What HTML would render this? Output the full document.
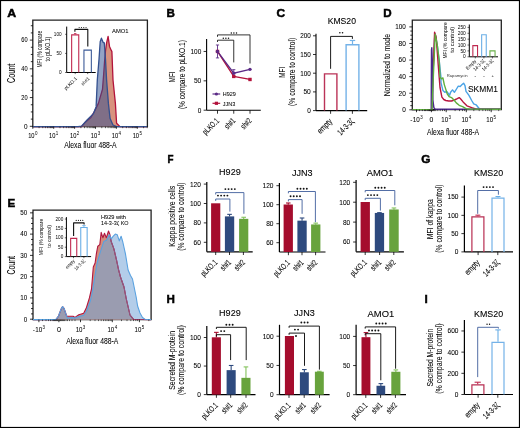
<!DOCTYPE html>
<html><head><meta charset="utf-8"><style>
html,body{margin:0;padding:0;background:#fff;width:520px;height:428px;overflow:hidden}
svg{display:block;will-change:transform}
text{font-family:"Liberation Sans", sans-serif}
</style></head><body>
<svg width="520" height="428" viewBox="0 0 520 428">
<rect x="0.5" y="0.5" width="519" height="427" fill="none" stroke="#000" stroke-width="1.2"/>
<text x="7.2" y="16.8" font-size="11.6" text-anchor="start" font-weight="bold" fill="#000" textLength="8.9" lengthAdjust="spacingAndGlyphs" stroke="#000" stroke-width="0.5">A</text>
<text x="166.4" y="16.8" font-size="11.6" text-anchor="start" font-weight="bold" fill="#000" stroke="#000" stroke-width="0.5">B</text>
<text x="276.6" y="16.7" font-size="11.6" text-anchor="start" font-weight="bold" fill="#000" textLength="8.6" lengthAdjust="spacingAndGlyphs" stroke="#000" stroke-width="0.5">C</text>
<text x="383.3" y="16.8" font-size="11.6" text-anchor="start" font-weight="bold" fill="#000" stroke="#000" stroke-width="0.5">D</text>
<text x="7.5" y="206.7" font-size="11.6" text-anchor="start" font-weight="bold" fill="#000" stroke="#000" stroke-width="0.5">E</text>
<text x="167.6" y="162.6" font-size="11.6" text-anchor="start" font-weight="bold" fill="#000" textLength="6" lengthAdjust="spacingAndGlyphs" stroke="#000" stroke-width="0.5">F</text>
<text x="421.3" y="163" font-size="11.6" text-anchor="start" font-weight="bold" fill="#000" textLength="9.2" lengthAdjust="spacingAndGlyphs" stroke="#000" stroke-width="0.5">G</text>
<text x="166.4" y="303.3" font-size="11.6" text-anchor="start" font-weight="bold" fill="#000" stroke="#000" stroke-width="0.5">H</text>
<text x="424.4" y="303.3" font-size="11.6" text-anchor="start" font-weight="bold" fill="#000" stroke="#000" stroke-width="0.5">I</text>
<path d="M32.8,126.6 L32.8,20.1 L147.4,20.1 L147.4,126.6 Z" fill="none" stroke="#222" stroke-width="1.3"/>
<path d="M33,126.6 L81.5,126.6 L85,122.6 L90.9,117.4 L94.4,111.5 L98.4,103.4 L102.5,89.3 L103.6,75 L104.6,61 L105.6,50 L106.6,42.9 L108.1,36.4 L109.5,46.4 L111.3,50.4 L111.9,51.6 L113,80 L115.4,103.4 L116.6,123.2 L120,126.6 L147,126.6 Z" fill="#d8927e" stroke="none" stroke-width="1"/>
<path d="M33,126.6 L81.5,126.6 L85,122.6 L90.9,117.4 L94.4,111.5 L98.4,103.4 L102.5,89.3 L103.6,75 L104.6,61 L105.6,50 L106.6,42.9 L108.1,36.4 L109.5,46.4 L111.3,50.4 L111.9,51.6 L113,80 L115.4,103.4 L116.6,123.2 L120,126.6 L147,126.6" fill="none" stroke="#b3133b" stroke-width="1.3" stroke-linejoin="round"/>
<path d="M33,126.6 L78,126.6 L81.5,126.1 L87.3,119.7 L93.2,113.9 L96.1,106.9 L97.3,80 L99,59.2 L100.2,41.7 L101.4,38.2 L103.1,42.3 L104.3,42.9 L105.5,59.2 L106.6,80 L108.4,103.4 L110.1,118.6 L113,125 L116.6,126.6 L147,126.6 Z" fill="rgba(47,79,143,0.52)" stroke="none" stroke-width="1"/>
<path d="M33,126.6 L78,126.6 L81.5,126.1 L87.3,119.7 L93.2,113.9 L96.1,106.9 L97.3,80 L99,59.2 L100.2,41.7 L101.4,38.2 L103.1,42.3 L104.3,42.9 L105.5,59.2 L106.6,80 L108.4,103.4 L110.1,118.6 L113,125 L116.6,126.6 L147,126.6" fill="none" stroke="#33508f" stroke-width="1.3" stroke-linejoin="round"/>
<line x1="29.8" y1="126.3" x2="32.8" y2="126.3" stroke="#000" stroke-width="0.8"/>
<line x1="30.8" y1="119.12" x2="32.8" y2="119.12" stroke="#000" stroke-width="0.8"/>
<line x1="30.8" y1="111.93" x2="32.8" y2="111.93" stroke="#000" stroke-width="0.8"/>
<line x1="30.8" y1="104.75" x2="32.8" y2="104.75" stroke="#000" stroke-width="0.8"/>
<line x1="29.8" y1="97.57" x2="32.8" y2="97.57" stroke="#000" stroke-width="0.8"/>
<line x1="30.8" y1="90.38" x2="32.8" y2="90.38" stroke="#000" stroke-width="0.8"/>
<line x1="30.8" y1="83.2" x2="32.8" y2="83.2" stroke="#000" stroke-width="0.8"/>
<line x1="30.8" y1="76.02" x2="32.8" y2="76.02" stroke="#000" stroke-width="0.8"/>
<line x1="29.8" y1="68.83" x2="32.8" y2="68.83" stroke="#000" stroke-width="0.8"/>
<line x1="30.8" y1="61.65" x2="32.8" y2="61.65" stroke="#000" stroke-width="0.8"/>
<line x1="30.8" y1="54.46" x2="32.8" y2="54.46" stroke="#000" stroke-width="0.8"/>
<line x1="30.8" y1="47.28" x2="32.8" y2="47.28" stroke="#000" stroke-width="0.8"/>
<line x1="29.8" y1="40.1" x2="32.8" y2="40.1" stroke="#000" stroke-width="0.8"/>
<line x1="30.8" y1="32.91" x2="32.8" y2="32.91" stroke="#000" stroke-width="0.8"/>
<line x1="30.8" y1="25.73" x2="32.8" y2="25.73" stroke="#000" stroke-width="0.8"/>
<text x="27.6" y="128.6" font-size="6.4" text-anchor="end" font-weight="normal" fill="#000" stroke="#000" stroke-width="0.06">0</text>
<text x="27.6" y="99.87" font-size="6.4" text-anchor="end" font-weight="normal" fill="#000" stroke="#000" stroke-width="0.06" textLength="6.3" lengthAdjust="spacingAndGlyphs">20</text>
<text x="27.6" y="71.13" font-size="6.4" text-anchor="end" font-weight="normal" fill="#000" stroke="#000" stroke-width="0.06" textLength="6.3" lengthAdjust="spacingAndGlyphs">40</text>
<text x="27.6" y="42.4" font-size="6.4" text-anchor="end" font-weight="normal" fill="#000" stroke="#000" stroke-width="0.06" textLength="6.3" lengthAdjust="spacingAndGlyphs">60</text>
<text x="0" y="0" transform="translate(15.03,73.4) rotate(-90)" font-size="10.08" text-anchor="middle" font-weight="normal" fill="#000" stroke="#000" stroke-width="0.06" textLength="19.2" lengthAdjust="spacingAndGlyphs">Count</text>
<line x1="32.8" y1="126.6" x2="32.8" y2="128.8" stroke="#000" stroke-width="0.8"/>
<line x1="39.09" y1="126.6" x2="39.09" y2="128.2" stroke="#000" stroke-width="0.6"/>
<line x1="42.77" y1="126.6" x2="42.77" y2="128.2" stroke="#000" stroke-width="0.6"/>
<line x1="45.38" y1="126.6" x2="45.38" y2="128.2" stroke="#000" stroke-width="0.6"/>
<line x1="47.41" y1="126.6" x2="47.41" y2="128.2" stroke="#000" stroke-width="0.6"/>
<line x1="49.06" y1="126.6" x2="49.06" y2="128.2" stroke="#000" stroke-width="0.6"/>
<line x1="50.46" y1="126.6" x2="50.46" y2="128.2" stroke="#000" stroke-width="0.6"/>
<line x1="51.67" y1="126.6" x2="51.67" y2="128.2" stroke="#000" stroke-width="0.6"/>
<line x1="52.74" y1="126.6" x2="52.74" y2="128.2" stroke="#000" stroke-width="0.6"/>
<line x1="53.7" y1="126.6" x2="53.7" y2="128.8" stroke="#000" stroke-width="0.8"/>
<line x1="59.99" y1="126.6" x2="59.99" y2="128.2" stroke="#000" stroke-width="0.6"/>
<line x1="63.67" y1="126.6" x2="63.67" y2="128.2" stroke="#000" stroke-width="0.6"/>
<line x1="66.28" y1="126.6" x2="66.28" y2="128.2" stroke="#000" stroke-width="0.6"/>
<line x1="68.31" y1="126.6" x2="68.31" y2="128.2" stroke="#000" stroke-width="0.6"/>
<line x1="69.96" y1="126.6" x2="69.96" y2="128.2" stroke="#000" stroke-width="0.6"/>
<line x1="71.36" y1="126.6" x2="71.36" y2="128.2" stroke="#000" stroke-width="0.6"/>
<line x1="72.57" y1="126.6" x2="72.57" y2="128.2" stroke="#000" stroke-width="0.6"/>
<line x1="73.64" y1="126.6" x2="73.64" y2="128.2" stroke="#000" stroke-width="0.6"/>
<line x1="74.6" y1="126.6" x2="74.6" y2="128.8" stroke="#000" stroke-width="0.8"/>
<line x1="80.89" y1="126.6" x2="80.89" y2="128.2" stroke="#000" stroke-width="0.6"/>
<line x1="84.57" y1="126.6" x2="84.57" y2="128.2" stroke="#000" stroke-width="0.6"/>
<line x1="87.18" y1="126.6" x2="87.18" y2="128.2" stroke="#000" stroke-width="0.6"/>
<line x1="89.21" y1="126.6" x2="89.21" y2="128.2" stroke="#000" stroke-width="0.6"/>
<line x1="90.86" y1="126.6" x2="90.86" y2="128.2" stroke="#000" stroke-width="0.6"/>
<line x1="92.26" y1="126.6" x2="92.26" y2="128.2" stroke="#000" stroke-width="0.6"/>
<line x1="93.47" y1="126.6" x2="93.47" y2="128.2" stroke="#000" stroke-width="0.6"/>
<line x1="94.54" y1="126.6" x2="94.54" y2="128.2" stroke="#000" stroke-width="0.6"/>
<line x1="95.5" y1="126.6" x2="95.5" y2="128.8" stroke="#000" stroke-width="0.8"/>
<line x1="101.79" y1="126.6" x2="101.79" y2="128.2" stroke="#000" stroke-width="0.6"/>
<line x1="105.47" y1="126.6" x2="105.47" y2="128.2" stroke="#000" stroke-width="0.6"/>
<line x1="108.08" y1="126.6" x2="108.08" y2="128.2" stroke="#000" stroke-width="0.6"/>
<line x1="110.11" y1="126.6" x2="110.11" y2="128.2" stroke="#000" stroke-width="0.6"/>
<line x1="111.76" y1="126.6" x2="111.76" y2="128.2" stroke="#000" stroke-width="0.6"/>
<line x1="113.16" y1="126.6" x2="113.16" y2="128.2" stroke="#000" stroke-width="0.6"/>
<line x1="114.37" y1="126.6" x2="114.37" y2="128.2" stroke="#000" stroke-width="0.6"/>
<line x1="115.44" y1="126.6" x2="115.44" y2="128.2" stroke="#000" stroke-width="0.6"/>
<line x1="116.4" y1="126.6" x2="116.4" y2="128.8" stroke="#000" stroke-width="0.8"/>
<line x1="122.69" y1="126.6" x2="122.69" y2="128.2" stroke="#000" stroke-width="0.6"/>
<line x1="126.37" y1="126.6" x2="126.37" y2="128.2" stroke="#000" stroke-width="0.6"/>
<line x1="128.98" y1="126.6" x2="128.98" y2="128.2" stroke="#000" stroke-width="0.6"/>
<line x1="131.01" y1="126.6" x2="131.01" y2="128.2" stroke="#000" stroke-width="0.6"/>
<line x1="132.66" y1="126.6" x2="132.66" y2="128.2" stroke="#000" stroke-width="0.6"/>
<line x1="134.06" y1="126.6" x2="134.06" y2="128.2" stroke="#000" stroke-width="0.6"/>
<line x1="135.27" y1="126.6" x2="135.27" y2="128.2" stroke="#000" stroke-width="0.6"/>
<line x1="136.34" y1="126.6" x2="136.34" y2="128.2" stroke="#000" stroke-width="0.6"/>
<line x1="137.3" y1="126.6" x2="137.3" y2="128.8" stroke="#000" stroke-width="0.8"/>
<line x1="143.59" y1="126.6" x2="143.59" y2="128.2" stroke="#000" stroke-width="0.6"/>
<line x1="147.27" y1="126.6" x2="147.27" y2="128.2" stroke="#000" stroke-width="0.6"/>
<line x1="316" y1="33.8" x2="316" y2="110.6" stroke="#000" stroke-width="1.1"/>
<line x1="316" y1="110.6" x2="367.2" y2="110.6" stroke="#000" stroke-width="1.1"/>
<line x1="313" y1="110.6" x2="316" y2="110.6" stroke="#000" stroke-width="0.8"/>
<text x="310.8" y="113" font-size="6.6" text-anchor="end" font-weight="normal" fill="#000" stroke="#000" stroke-width="0.06" textLength="3.6" lengthAdjust="spacingAndGlyphs">0</text>
<line x1="313" y1="91.9" x2="316" y2="91.9" stroke="#000" stroke-width="0.8"/>
<text x="310.8" y="94.3" font-size="6.6" text-anchor="end" font-weight="normal" fill="#000" stroke="#000" stroke-width="0.06" textLength="7.4" lengthAdjust="spacingAndGlyphs">50</text>
<line x1="313" y1="73.2" x2="316" y2="73.2" stroke="#000" stroke-width="0.8"/>
<text x="310.8" y="75.6" font-size="6.6" text-anchor="end" font-weight="normal" fill="#000" stroke="#000" stroke-width="0.06" textLength="10.6" lengthAdjust="spacingAndGlyphs">100</text>
<line x1="313" y1="54.5" x2="316" y2="54.5" stroke="#000" stroke-width="0.8"/>
<text x="310.8" y="56.9" font-size="6.6" text-anchor="end" font-weight="normal" fill="#000" stroke="#000" stroke-width="0.06" textLength="10.6" lengthAdjust="spacingAndGlyphs">150</text>
<line x1="313" y1="35.8" x2="316" y2="35.8" stroke="#000" stroke-width="0.8"/>
<text x="310.8" y="38.2" font-size="6.6" text-anchor="end" font-weight="normal" fill="#000" stroke="#000" stroke-width="0.06" textLength="10.6" lengthAdjust="spacingAndGlyphs">200</text>
<line x1="330.6" y1="110.6" x2="330.6" y2="113.8" stroke="#000" stroke-width="0.8"/>
<line x1="352.4" y1="110.6" x2="352.4" y2="113.8" stroke="#000" stroke-width="0.8"/>
<path d="M324.5,110.6 L324.5,73.89999999999999 L336.90000000000003,73.89999999999999 L336.90000000000003,110.6" fill="none" stroke="#bb3358" stroke-width="1.4"/>
<path d="M346.09999999999997,110.6 L346.09999999999997,44.727999999999994 L358.90000000000003,44.727999999999994 L358.90000000000003,110.6" fill="none" stroke="#74b2e8" stroke-width="1.4"/>
<line x1="352.5" y1="44.03" x2="352.5" y2="40.47" stroke="#74b2e8" stroke-width="1.2"/>
<line x1="349.8" y1="40.47" x2="355.2" y2="40.47" stroke="#74b2e8" stroke-width="1.2"/>
<path d="M330.6,68.8 L330.6,36.4 L352.4,36.4 L352.4,38.9" fill="none" stroke="#000" stroke-width="0.9" stroke-linejoin="round"/>
<circle cx="339.85" cy="32.80" r="0.8" fill="#111"/>
<circle cx="342.55" cy="32.80" r="0.8" fill="#111"/>
<text x="341.8" y="24" font-size="8.8" text-anchor="middle" font-weight="normal" fill="#000" stroke="#000" stroke-width="0.1" textLength="28.3" lengthAdjust="spacingAndGlyphs">KMS20</text>
<text x="0" y="0" transform="translate(332.8,121.9) rotate(-45)" font-size="8.43" text-anchor="end" font-weight="normal" fill="#000" stroke="#000" stroke-width="0.1" textLength="17.5" lengthAdjust="spacingAndGlyphs">empty</text>
<text x="0" y="0" transform="translate(354.6,121.9) rotate(-45)" font-size="8.43" text-anchor="end" font-weight="normal" fill="#000" stroke="#000" stroke-width="0.1" textLength="19.5" lengthAdjust="spacingAndGlyphs">14-3-3ζ</text>
<text x="0" y="0" transform="translate(284.83,72.3) rotate(-90)" font-size="9.24" text-anchor="middle" font-weight="normal" fill="#000" stroke="#000" stroke-width="0.06" textLength="11" lengthAdjust="spacingAndGlyphs">MFI</text>
<text x="0" y="0" transform="translate(295.02,71.8) rotate(-90)" font-size="8.64" text-anchor="middle" font-weight="normal" fill="#000" stroke="#000" stroke-width="0.06" textLength="68.3" lengthAdjust="spacingAndGlyphs">(% compare to control)</text>
<path d="M412.3,109.6 L412.3,20.2 L501.3,20.2 L501.3,109.6 Z" fill="none" stroke="#222" stroke-width="1.3"/>
<path d="M412.3,109.6 L431.8,109.6 L433.2,70 L434.6,38 L435.2,34.1 L437.3,45.3 L439.3,61.5 L440.9,76.8 L441,82.7 L442.9,90.4 L444.8,92.3 L446.7,91.3 L449.6,95.2 L450.6,92.3 L452.5,89.9 L454.4,92.3 L456.8,88.5 L458.3,86.1 L460.2,86.5 L462.1,84.6 L463.6,83.2 L465,85.6 L466,91.3 L468.8,95.2 L471.7,100.5 L473.7,103.8 L476.1,104.8 L478.5,107.7 L480.4,109.2 L501,109.2" fill="none" stroke="#4aa3e6" stroke-width="1.4" stroke-linejoin="round"/>
<path d="M412.3,109.6 L431.6,109.6 L433,75 L434.6,32.1 L436.2,37.2 L438.3,65.6 L440,87.5 L441.9,97.1 L443.8,99.5 L445.8,100.5 L448.7,101 L451.5,101 L454.4,100 L457.3,98.6 L459.2,97.6 L460.7,99 L463.1,101.9 L466.9,105.8 L471.7,107.7 L476.5,109.1 L501,109.2" fill="none" stroke="#b8153f" stroke-width="1.4" stroke-linejoin="round"/>
<path d="M412.3,109.6 L431.2,109.6 L431.5,50 L431.8,47.8 L432.3,60 L432.9,100 L433.9,107.8 L435.2,109.3 L501,109.3" fill="none" stroke="#4b2a8a" stroke-width="1.4" stroke-linejoin="round"/>
<path d="M412.3,109.6 L432,109.6 L433.4,75 L435.2,34.1 L437.3,45.3 L439.3,61.5 L440,76.9 L441.4,78.8 L442.9,77.9 L444.3,84.6 L445.8,89.4 L447.2,93.8 L449.1,96.6 L451.5,97.6 L453,99 L454.4,100.5 L456.3,102.9 L459.2,105.3 L462.6,106.7 L466,108.7 L470.8,109.1 L501,109.2" fill="none" stroke="#5fae3e" stroke-width="1.4" stroke-linejoin="round"/>
<line x1="409.3" y1="109.8" x2="412.3" y2="109.8" stroke="#000" stroke-width="0.8"/>
<line x1="410.3" y1="105.66" x2="412.3" y2="105.66" stroke="#000" stroke-width="0.8"/>
<line x1="410.3" y1="101.51" x2="412.3" y2="101.51" stroke="#000" stroke-width="0.8"/>
<line x1="410.3" y1="97.36" x2="412.3" y2="97.36" stroke="#000" stroke-width="0.8"/>
<line x1="409.3" y1="93.22" x2="412.3" y2="93.22" stroke="#000" stroke-width="0.8"/>
<line x1="410.3" y1="89.08" x2="412.3" y2="89.08" stroke="#000" stroke-width="0.8"/>
<line x1="410.3" y1="84.93" x2="412.3" y2="84.93" stroke="#000" stroke-width="0.8"/>
<line x1="410.3" y1="80.78" x2="412.3" y2="80.78" stroke="#000" stroke-width="0.8"/>
<line x1="409.3" y1="76.64" x2="412.3" y2="76.64" stroke="#000" stroke-width="0.8"/>
<line x1="410.3" y1="72.5" x2="412.3" y2="72.5" stroke="#000" stroke-width="0.8"/>
<line x1="410.3" y1="68.35" x2="412.3" y2="68.35" stroke="#000" stroke-width="0.8"/>
<line x1="410.3" y1="64.2" x2="412.3" y2="64.2" stroke="#000" stroke-width="0.8"/>
<line x1="409.3" y1="60.06" x2="412.3" y2="60.06" stroke="#000" stroke-width="0.8"/>
<line x1="410.3" y1="55.91" x2="412.3" y2="55.91" stroke="#000" stroke-width="0.8"/>
<line x1="410.3" y1="51.77" x2="412.3" y2="51.77" stroke="#000" stroke-width="0.8"/>
<line x1="410.3" y1="47.62" x2="412.3" y2="47.62" stroke="#000" stroke-width="0.8"/>
<line x1="409.3" y1="43.48" x2="412.3" y2="43.48" stroke="#000" stroke-width="0.8"/>
<line x1="410.3" y1="39.33" x2="412.3" y2="39.33" stroke="#000" stroke-width="0.8"/>
<line x1="410.3" y1="35.19" x2="412.3" y2="35.19" stroke="#000" stroke-width="0.8"/>
<line x1="410.3" y1="31.05" x2="412.3" y2="31.05" stroke="#000" stroke-width="0.8"/>
<line x1="409.3" y1="26.9" x2="412.3" y2="26.9" stroke="#000" stroke-width="0.8"/>
<text x="405.8" y="112.2" font-size="6.6" text-anchor="end" font-weight="normal" fill="#000" stroke="#000" stroke-width="0.06" textLength="3.6" lengthAdjust="spacingAndGlyphs">0</text>
<text x="405.8" y="95.62" font-size="6.6" text-anchor="end" font-weight="normal" fill="#000" stroke="#000" stroke-width="0.06" textLength="7.3" lengthAdjust="spacingAndGlyphs">20</text>
<text x="405.8" y="79.04" font-size="6.6" text-anchor="end" font-weight="normal" fill="#000" stroke="#000" stroke-width="0.06" textLength="7.3" lengthAdjust="spacingAndGlyphs">40</text>
<text x="405.8" y="62.46" font-size="6.6" text-anchor="end" font-weight="normal" fill="#000" stroke="#000" stroke-width="0.06" textLength="7.3" lengthAdjust="spacingAndGlyphs">60</text>
<text x="405.8" y="45.88" font-size="6.6" text-anchor="end" font-weight="normal" fill="#000" stroke="#000" stroke-width="0.06" textLength="7.3" lengthAdjust="spacingAndGlyphs">80</text>
<text x="405.8" y="29.3" font-size="6.6" text-anchor="end" font-weight="normal" fill="#000" stroke="#000" stroke-width="0.06" textLength="10.6" lengthAdjust="spacingAndGlyphs">100</text>
<text x="0" y="0" transform="translate(389.92,65.1) rotate(-90)" font-size="8.64" text-anchor="middle" font-weight="normal" fill="#000" stroke="#000" stroke-width="0.06" textLength="62.5" lengthAdjust="spacingAndGlyphs">Normalized to mode</text>
<line x1="416.5" y1="109.6" x2="416.5" y2="112.2" stroke="#000" stroke-width="0.8"/>
<line x1="431.4" y1="109.6" x2="431.4" y2="112.2" stroke="#000" stroke-width="0.8"/>
<line x1="446.2" y1="109.6" x2="446.2" y2="112.2" stroke="#000" stroke-width="0.8"/>
<line x1="466.3" y1="109.6" x2="466.3" y2="112.2" stroke="#000" stroke-width="0.8"/>
<line x1="491.2" y1="109.6" x2="491.2" y2="112.2" stroke="#000" stroke-width="0.8"/>
<line x1="419.5" y1="109.6" x2="419.5" y2="111.1" stroke="#000" stroke-width="0.6"/>
<line x1="422.4" y1="109.6" x2="422.4" y2="111.1" stroke="#000" stroke-width="0.6"/>
<line x1="424.5" y1="109.6" x2="424.5" y2="111.1" stroke="#000" stroke-width="0.6"/>
<line x1="425.5" y1="109.6" x2="425.5" y2="111.1" stroke="#000" stroke-width="0.6"/>
<line x1="427" y1="109.6" x2="427" y2="111.1" stroke="#000" stroke-width="0.6"/>
<line x1="428" y1="109.6" x2="428" y2="111.1" stroke="#000" stroke-width="0.6"/>
<line x1="428.8" y1="109.6" x2="428.8" y2="111.1" stroke="#000" stroke-width="0.6"/>
<line x1="429.5" y1="109.6" x2="429.5" y2="111.1" stroke="#000" stroke-width="0.6"/>
<line x1="430.1" y1="109.6" x2="430.1" y2="111.1" stroke="#000" stroke-width="0.6"/>
<line x1="430.7" y1="109.6" x2="430.7" y2="111.1" stroke="#000" stroke-width="0.6"/>
<line x1="432.1" y1="109.6" x2="432.1" y2="111.1" stroke="#000" stroke-width="0.6"/>
<line x1="432.7" y1="109.6" x2="432.7" y2="111.1" stroke="#000" stroke-width="0.6"/>
<line x1="433.3" y1="109.6" x2="433.3" y2="111.1" stroke="#000" stroke-width="0.6"/>
<line x1="434" y1="109.6" x2="434" y2="111.1" stroke="#000" stroke-width="0.6"/>
<line x1="434.8" y1="109.6" x2="434.8" y2="111.1" stroke="#000" stroke-width="0.6"/>
<line x1="435.8" y1="109.6" x2="435.8" y2="111.1" stroke="#000" stroke-width="0.6"/>
<line x1="437.8" y1="109.6" x2="437.8" y2="111.1" stroke="#000" stroke-width="0.6"/>
<line x1="440.2" y1="109.6" x2="440.2" y2="111.1" stroke="#000" stroke-width="0.6"/>
<line x1="442.5" y1="109.6" x2="442.5" y2="111.1" stroke="#000" stroke-width="0.6"/>
<line x1="444.5" y1="109.6" x2="444.5" y2="111.1" stroke="#000" stroke-width="0.6"/>
<line x1="455.1" y1="109.6" x2="455.1" y2="111.1" stroke="#000" stroke-width="0.6"/>
<line x1="459.5" y1="109.6" x2="459.5" y2="111.1" stroke="#000" stroke-width="0.6"/>
<line x1="462.5" y1="109.6" x2="462.5" y2="111.1" stroke="#000" stroke-width="0.6"/>
<line x1="464.6" y1="109.6" x2="464.6" y2="111.1" stroke="#000" stroke-width="0.6"/>
<line x1="473.8" y1="109.6" x2="473.8" y2="111.1" stroke="#000" stroke-width="0.6"/>
<line x1="479.2" y1="109.6" x2="479.2" y2="111.1" stroke="#000" stroke-width="0.6"/>
<line x1="482.8" y1="109.6" x2="482.8" y2="111.1" stroke="#000" stroke-width="0.6"/>
<line x1="485.6" y1="109.6" x2="485.6" y2="111.1" stroke="#000" stroke-width="0.6"/>
<line x1="487.8" y1="109.6" x2="487.8" y2="111.1" stroke="#000" stroke-width="0.6"/>
<line x1="489.6" y1="109.6" x2="489.6" y2="111.1" stroke="#000" stroke-width="0.6"/>
<line x1="498.7" y1="109.6" x2="498.7" y2="111.1" stroke="#000" stroke-width="0.6"/>
<text x="410.35" y="121.6" font-size="7" text-anchor="start" font-weight="normal" fill="#000" stroke="#000" stroke-width="0.06" textLength="2.2" lengthAdjust="spacingAndGlyphs">-</text>
<text x="412.75" y="121.6" font-size="7" text-anchor="start" font-weight="normal" fill="#000" stroke="#000" stroke-width="0.06" textLength="7" lengthAdjust="spacingAndGlyphs">10</text>
<text x="420.15" y="118.7" font-size="4.8" text-anchor="start" font-weight="normal" fill="#000" textLength="2.5" lengthAdjust="spacingAndGlyphs">3</text>
<text x="431.4" y="121.6" font-size="7" text-anchor="middle" font-weight="normal" fill="#000" stroke="#000" stroke-width="0.06" textLength="3.8" lengthAdjust="spacingAndGlyphs">0</text>
<text x="441.35" y="121.6" font-size="7" text-anchor="start" font-weight="normal" fill="#000" stroke="#000" stroke-width="0.06" textLength="6.8" lengthAdjust="spacingAndGlyphs">10</text>
<text x="448.55" y="118.7" font-size="4.8" text-anchor="start" font-weight="normal" fill="#000" textLength="2.5" lengthAdjust="spacingAndGlyphs">3</text>
<text x="461.45" y="121.6" font-size="7" text-anchor="start" font-weight="normal" fill="#000" stroke="#000" stroke-width="0.06" textLength="6.8" lengthAdjust="spacingAndGlyphs">10</text>
<text x="468.65" y="118.7" font-size="4.8" text-anchor="start" font-weight="normal" fill="#000" textLength="2.5" lengthAdjust="spacingAndGlyphs">4</text>
<text x="486.35" y="121.6" font-size="7" text-anchor="start" font-weight="normal" fill="#000" stroke="#000" stroke-width="0.06" textLength="6.8" lengthAdjust="spacingAndGlyphs">10</text>
<text x="493.55" y="118.7" font-size="4.8" text-anchor="start" font-weight="normal" fill="#000" textLength="2.5" lengthAdjust="spacingAndGlyphs">5</text>
<text x="427.1" y="135.2" font-size="8.2" text-anchor="start" font-weight="normal" fill="#000" stroke="#000" stroke-width="0.06" textLength="52" lengthAdjust="spacingAndGlyphs">Alexa fluor 488-A</text>
<text x="467.9" y="91.9" font-size="8.6" text-anchor="start" font-weight="normal" fill="#000" stroke="#000" stroke-width="0.06" textLength="30" lengthAdjust="spacingAndGlyphs">SKMM1</text>
<line x1="469.3" y1="24.5" x2="469.3" y2="56.8" stroke="#000" stroke-width="1"/>
<line x1="469.3" y1="56.8" x2="498" y2="56.8" stroke="#000" stroke-width="1"/>
<line x1="467.5" y1="56.8" x2="469.3" y2="56.8" stroke="#000" stroke-width="0.6"/>
<text x="465.8" y="58.4" font-size="4.6" text-anchor="end" font-weight="normal" fill="#000" textLength="2.7" lengthAdjust="spacingAndGlyphs">0</text>
<line x1="467.5" y1="50.92" x2="469.3" y2="50.92" stroke="#000" stroke-width="0.6"/>
<text x="465.8" y="52.52" font-size="4.6" text-anchor="end" font-weight="normal" fill="#000" textLength="5.4" lengthAdjust="spacingAndGlyphs">50</text>
<line x1="467.5" y1="45.04" x2="469.3" y2="45.04" stroke="#000" stroke-width="0.6"/>
<text x="465.8" y="46.64" font-size="4.6" text-anchor="end" font-weight="normal" fill="#000" textLength="8.1" lengthAdjust="spacingAndGlyphs">100</text>
<line x1="467.5" y1="39.16" x2="469.3" y2="39.16" stroke="#000" stroke-width="0.6"/>
<text x="465.8" y="40.76" font-size="4.6" text-anchor="end" font-weight="normal" fill="#000" textLength="8.1" lengthAdjust="spacingAndGlyphs">150</text>
<line x1="467.5" y1="33.28" x2="469.3" y2="33.28" stroke="#000" stroke-width="0.6"/>
<text x="465.8" y="34.88" font-size="4.6" text-anchor="end" font-weight="normal" fill="#000" textLength="8.1" lengthAdjust="spacingAndGlyphs">200</text>
<line x1="467.5" y1="27.4" x2="469.3" y2="27.4" stroke="#000" stroke-width="0.6"/>
<text x="465.8" y="29" font-size="4.6" text-anchor="end" font-weight="normal" fill="#000" textLength="8.1" lengthAdjust="spacingAndGlyphs">250</text>
<path d="M472.85,56.8 L472.85,45.589999999999996 L477.55,45.589999999999996 L477.55,56.8" fill="none" stroke="#c02a50" stroke-width="1.1"/>
<path d="M481.65000000000003,56.8 L481.65000000000003,34.770799999999994 L486.25,34.770799999999994 L486.25,56.8" fill="none" stroke="#6aaee6" stroke-width="1.1"/>
<path d="M489.95,56.8 L489.95,50.88199999999999 L495.05,50.88199999999999 L495.05,56.8" fill="none" stroke="#6ab04a" stroke-width="1.1"/>
<line x1="475.3" y1="56.8" x2="475.3" y2="58.4" stroke="#000" stroke-width="0.6"/>
<line x1="483.9" y1="56.8" x2="483.9" y2="58.4" stroke="#000" stroke-width="0.6"/>
<line x1="492.4" y1="56.8" x2="492.4" y2="58.4" stroke="#000" stroke-width="0.6"/>
<text x="0" y="0" transform="translate(476.6,61.4) rotate(-45)" font-size="4.9" text-anchor="end" font-weight="normal" fill="#000" textLength="12.4" lengthAdjust="spacingAndGlyphs">Empty</text>
<text x="0" y="0" transform="translate(485.2,61.4) rotate(-45)" font-size="4.9" text-anchor="end" font-weight="normal" fill="#000" textLength="14" lengthAdjust="spacingAndGlyphs">14-3-3ζ</text>
<text x="0" y="0" transform="translate(493.7,61.4) rotate(-45)" font-size="4.9" text-anchor="end" font-weight="normal" fill="#000" textLength="14" lengthAdjust="spacingAndGlyphs">14-3-3ζ</text>
<text x="446.7" y="77.2" font-size="4.3" text-anchor="start" font-weight="normal" fill="#333" textLength="21" lengthAdjust="spacingAndGlyphs">Rapamycin</text>
<text x="475.3" y="76.9" font-size="4.3" text-anchor="middle" font-weight="normal" fill="#000">-</text>
<text x="483.9" y="76.9" font-size="4.3" text-anchor="middle" font-weight="normal" fill="#000">-</text>
<text x="492.7" y="76.9" font-size="4.3" text-anchor="middle" font-weight="normal" fill="#000">+</text>
<text x="0" y="0" transform="translate(446.6,40.4) rotate(-90)" font-size="6" text-anchor="middle" font-weight="normal" fill="#000" textLength="36.2" lengthAdjust="spacingAndGlyphs">MFI (% compare</text>
<text x="0" y="0" transform="translate(453.9,39.7) rotate(-90)" font-size="6" text-anchor="middle" font-weight="normal" fill="#000" textLength="26" lengthAdjust="spacingAndGlyphs">to control)</text>
<text x="28.15" y="138.1" font-size="7" text-anchor="start" font-weight="normal" fill="#000" stroke="#000" stroke-width="0.06" textLength="6.4" lengthAdjust="spacingAndGlyphs">10</text>
<text x="34.95" y="135.2" font-size="4.6" text-anchor="start" font-weight="normal" fill="#000" textLength="2.5" lengthAdjust="spacingAndGlyphs">0</text>
<text x="49.05" y="138.1" font-size="7" text-anchor="start" font-weight="normal" fill="#000" stroke="#000" stroke-width="0.06" textLength="6.4" lengthAdjust="spacingAndGlyphs">10</text>
<text x="55.85" y="135.2" font-size="4.6" text-anchor="start" font-weight="normal" fill="#000" textLength="2.5" lengthAdjust="spacingAndGlyphs">1</text>
<text x="69.95" y="138.1" font-size="7" text-anchor="start" font-weight="normal" fill="#000" stroke="#000" stroke-width="0.06" textLength="6.4" lengthAdjust="spacingAndGlyphs">10</text>
<text x="76.75" y="135.2" font-size="4.6" text-anchor="start" font-weight="normal" fill="#000" textLength="2.5" lengthAdjust="spacingAndGlyphs">2</text>
<text x="90.85" y="138.1" font-size="7" text-anchor="start" font-weight="normal" fill="#000" stroke="#000" stroke-width="0.06" textLength="6.4" lengthAdjust="spacingAndGlyphs">10</text>
<text x="97.65" y="135.2" font-size="4.6" text-anchor="start" font-weight="normal" fill="#000" textLength="2.5" lengthAdjust="spacingAndGlyphs">3</text>
<text x="111.75" y="138.1" font-size="7" text-anchor="start" font-weight="normal" fill="#000" stroke="#000" stroke-width="0.06" textLength="6.4" lengthAdjust="spacingAndGlyphs">10</text>
<text x="118.55" y="135.2" font-size="4.6" text-anchor="start" font-weight="normal" fill="#000" textLength="2.5" lengthAdjust="spacingAndGlyphs">4</text>
<text x="132.65" y="138.1" font-size="7" text-anchor="start" font-weight="normal" fill="#000" stroke="#000" stroke-width="0.06" textLength="6.4" lengthAdjust="spacingAndGlyphs">10</text>
<text x="139.45" y="135.2" font-size="4.6" text-anchor="start" font-weight="normal" fill="#000" textLength="2.5" lengthAdjust="spacingAndGlyphs">5</text>
<text x="64.2" y="148.2" font-size="8.2" text-anchor="start" font-weight="normal" fill="#000" stroke="#000" stroke-width="0.06" textLength="52.5" lengthAdjust="spacingAndGlyphs">Alexa fluor 488-A</text>
<text x="112" y="32.6" font-size="6.2" text-anchor="start" font-weight="normal" fill="#000" stroke="#000" stroke-width="0.06" textLength="16.5" lengthAdjust="spacingAndGlyphs">AMO1</text>
<line x1="66.7" y1="26.6" x2="66.7" y2="72.5" stroke="#000" stroke-width="1"/>
<line x1="66.7" y1="72.5" x2="95.7" y2="72.5" stroke="#000" stroke-width="1"/>
<line x1="65.1" y1="72.5" x2="66.7" y2="72.5" stroke="#000" stroke-width="0.6"/>
<text x="61.6" y="74.2" font-size="4.8" text-anchor="end" font-weight="normal" fill="#000" textLength="2.6" lengthAdjust="spacingAndGlyphs">0</text>
<line x1="65.1" y1="53.4" x2="66.7" y2="53.4" stroke="#000" stroke-width="0.6"/>
<text x="61.6" y="55.1" font-size="4.8" text-anchor="end" font-weight="normal" fill="#000" textLength="5.2" lengthAdjust="spacingAndGlyphs">50</text>
<line x1="65.1" y1="34.3" x2="66.7" y2="34.3" stroke="#000" stroke-width="0.6"/>
<text x="61.6" y="36" font-size="4.8" text-anchor="end" font-weight="normal" fill="#000" textLength="7.8" lengthAdjust="spacingAndGlyphs">100</text>
<path d="M71.64999999999999,72.5 L71.64999999999999,34.849999999999994 L78.75,34.849999999999994 L78.75,72.5" fill="none" stroke="#c02a50" stroke-width="1.1"/>
<line x1="75.2" y1="34.3" x2="75.2" y2="33.54" stroke="#c02a50" stroke-width="0.8"/>
<line x1="73.95" y1="33.54" x2="76.45" y2="33.54" stroke="#c02a50" stroke-width="0.8"/>
<path d="M83.95,72.5 L83.95,50.129999999999995 L91.35000000000001,50.129999999999995 L91.35000000000001,72.5" fill="none" stroke="#3d5b98" stroke-width="1.1"/>
<path d="M74.9,31.8 L74.9,29.4 L87.8,29.4 L87.8,46.6" fill="none" stroke="#111" stroke-width="1.1" stroke-linejoin="round"/>
<circle cx="79.15" cy="27.50" r="0.55" fill="#111"/>
<circle cx="81.45" cy="27.50" r="0.55" fill="#111"/>
<circle cx="83.75" cy="27.50" r="0.55" fill="#111"/>
<circle cx="86.05" cy="27.50" r="0.55" fill="#111"/>
<line x1="75.2" y1="72.5" x2="75.2" y2="74.1" stroke="#000" stroke-width="0.6"/>
<line x1="87.7" y1="72.5" x2="87.7" y2="74.1" stroke="#000" stroke-width="0.6"/>
<text x="0" y="0" transform="translate(77.4,79) rotate(-45)" font-size="4.8" text-anchor="end" font-weight="normal" fill="#000" textLength="16" lengthAdjust="spacingAndGlyphs">pLKO.1</text>
<text x="0" y="0" transform="translate(89.9,79) rotate(-45)" font-size="4.8" text-anchor="end" font-weight="normal" fill="#000" textLength="9.6" lengthAdjust="spacingAndGlyphs">sh#1</text>
<text x="0" y="0" transform="translate(42.08,49.1) rotate(-90)" font-size="7.08" text-anchor="middle" font-weight="normal" fill="#000" textLength="36.6" lengthAdjust="spacingAndGlyphs">MFI (% compare</text>
<text x="0" y="0" transform="translate(49.98,49.1) rotate(-90)" font-size="7.08" text-anchor="middle" font-weight="normal" fill="#000" textLength="24.7" lengthAdjust="spacingAndGlyphs">to pLKO.1)</text>
<line x1="206.6" y1="39.1" x2="206.6" y2="110.2" stroke="#000" stroke-width="1.1"/>
<line x1="206.6" y1="110.2" x2="260.8" y2="110.2" stroke="#000" stroke-width="1.1"/>
<line x1="203.6" y1="110.2" x2="206.6" y2="110.2" stroke="#000" stroke-width="0.8"/>
<text x="201.3" y="112.6" font-size="6.6" text-anchor="end" font-weight="normal" fill="#000" stroke="#000" stroke-width="0.06" textLength="3.6" lengthAdjust="spacingAndGlyphs">0</text>
<line x1="203.6" y1="80.83" x2="206.6" y2="80.83" stroke="#000" stroke-width="0.8"/>
<text x="201.3" y="83.23" font-size="6.6" text-anchor="end" font-weight="normal" fill="#000" stroke="#000" stroke-width="0.06" textLength="7.4" lengthAdjust="spacingAndGlyphs">50</text>
<line x1="203.6" y1="51.45" x2="206.6" y2="51.45" stroke="#000" stroke-width="0.8"/>
<text x="201.3" y="53.85" font-size="6.6" text-anchor="end" font-weight="normal" fill="#000" stroke="#000" stroke-width="0.06" textLength="10.8" lengthAdjust="spacingAndGlyphs">100</text>
<line x1="217.5" y1="110.2" x2="217.5" y2="113.7" stroke="#000" stroke-width="0.8"/>
<line x1="233.75" y1="110.2" x2="233.75" y2="113.7" stroke="#000" stroke-width="0.8"/>
<line x1="250" y1="110.2" x2="250" y2="113.7" stroke="#000" stroke-width="0.8"/>
<path d="M217.5,36.8 L217.5,34.9 L250.0,34.9 L250.0,63.5" fill="none" stroke="#000" stroke-width="0.8" stroke-linejoin="round"/>
<path d="M217.5,42.0 L217.5,40.2 L233.75,40.2 L233.75,62.4" fill="none" stroke="#000" stroke-width="0.8" stroke-linejoin="round"/>
<circle cx="231.30" cy="32.90" r="0.75" fill="#111"/>
<circle cx="233.90" cy="32.90" r="0.75" fill="#111"/>
<circle cx="236.50" cy="32.90" r="0.75" fill="#111"/>
<circle cx="223.30" cy="38.20" r="0.75" fill="#111"/>
<circle cx="225.90" cy="38.20" r="0.75" fill="#111"/>
<circle cx="228.50" cy="38.20" r="0.75" fill="#111"/>
<line x1="217.5" y1="57.91" x2="217.5" y2="44.99" stroke="#5b2a86" stroke-width="0.9"/>
<line x1="215.9" y1="44.99" x2="219.1" y2="44.99" stroke="#5b2a86" stroke-width="0.9"/>
<line x1="215.9" y1="57.91" x2="219.1" y2="57.91" stroke="#5b2a86" stroke-width="0.9"/>
<line x1="233.75" y1="73.19" x2="233.75" y2="69.66" stroke="#5b2a86" stroke-width="0.9"/>
<line x1="232.15" y1="69.66" x2="235.35" y2="69.66" stroke="#5b2a86" stroke-width="0.9"/>
<path d="M217.5,51.45 L233.75,76.42 L250,79.47" fill="none" stroke="#b3123b" stroke-width="1.3"/>
<path d="M217.5,51.45 L233.75,73.19 L250,69.37" fill="none" stroke="#5b2a86" stroke-width="1.3"/>
<rect x="215.8" y="49.75" width="3.4" height="3.4" fill="#b3123b" stroke="none" stroke-width="1"/>
<rect x="232.05" y="74.72" width="3.4" height="3.4" fill="#b3123b" stroke="none" stroke-width="1"/>
<rect x="248.3" y="77.77" width="3.4" height="3.4" fill="#b3123b" stroke="none" stroke-width="1"/>
<circle cx="217.5" cy="51.45" r="1.7" fill="#5b2a86"/>
<circle cx="233.75" cy="73.19" r="1.7" fill="#5b2a86"/>
<circle cx="250" cy="69.37" r="1.7" fill="#5b2a86"/>
<line x1="212.5" y1="94" x2="220.2" y2="94" stroke="#5b2a86" stroke-width="1.2"/>
<circle cx="216.4" cy="94" r="1.6" fill="#5b2a86"/>
<text x="222.8" y="96.1" font-size="5.6" text-anchor="start" font-weight="normal" fill="#000" stroke="#000" stroke-width="0.06" textLength="13" lengthAdjust="spacingAndGlyphs">H929</text>
<line x1="212.5" y1="103.3" x2="220.2" y2="103.3" stroke="#b3123b" stroke-width="1.2"/>
<rect x="214.8" y="101.7" width="3.2" height="3.2" fill="#b3123b" stroke="none" stroke-width="1"/>
<text x="222.8" y="105.7" font-size="5.6" text-anchor="start" font-weight="normal" fill="#000" stroke="#000" stroke-width="0.06" textLength="12.6" lengthAdjust="spacingAndGlyphs">JJN3</text>
<text x="0" y="0" transform="translate(219.7,121.5) rotate(-45)" font-size="8.43" text-anchor="end" font-weight="normal" fill="#000" stroke="#000" stroke-width="0.1" textLength="19.6" lengthAdjust="spacingAndGlyphs">pLKO.1</text>
<text x="0" y="0" transform="translate(235.95,121.5) rotate(-45)" font-size="8.43" text-anchor="end" font-weight="normal" fill="#000" stroke="#000" stroke-width="0.1" textLength="11.5" lengthAdjust="spacingAndGlyphs">sh#1</text>
<text x="0" y="0" transform="translate(252.2,121.5) rotate(-45)" font-size="8.43" text-anchor="end" font-weight="normal" fill="#000" stroke="#000" stroke-width="0.1" textLength="11.5" lengthAdjust="spacingAndGlyphs">sh#2</text>
<text x="0" y="0" transform="translate(175.23,76.9) rotate(-90)" font-size="9.24" text-anchor="middle" font-weight="normal" fill="#000" stroke="#000" stroke-width="0.06" textLength="10.5" lengthAdjust="spacingAndGlyphs">MFI</text>
<text x="0" y="0" transform="translate(184.62,74.6) rotate(-90)" font-size="8.64" text-anchor="middle" font-weight="normal" fill="#000" stroke="#000" stroke-width="0.06" textLength="69" lengthAdjust="spacingAndGlyphs">(% compare to pLKO.1)</text>
<defs><clipPath id="clipRedE"><path d="M33.00,319.60 L56.00,319.60 L58.50,316.00 L60.00,312.00 L61.50,308.20 L62.60,306.50 L64.00,308.30 L66.80,316.20 L73.10,316.20 L75.00,317.40 L78.80,314.70 L83.70,313.30 L86.50,307.50 L89.40,297.90 L91.50,289.00 L92.40,278.00 L93.30,267.00 L95.10,263.00 L96.40,253.60 L97.80,246.20 L99.80,244.60 L101.20,232.40 L102.90,237.80 L104.50,233.20 L106.30,237.80 L108.50,231.00 L109.90,234.50 L111.20,241.50 L113.90,248.90 L116.60,260.40 L118.60,269.80 L120.50,277.00 L124.00,287.00 L126.25,298.75 L130.00,315.00 L133.50,319.30 L151.00,319.60 Z"/></clipPath><clipPath id="clipBlueE"><path d="M33.00,319.60 L55.70,319.60 L58.50,316.00 L60.00,312.00 L61.50,308.20 L62.60,306.50 L64.00,308.30 L67.30,318.10 L72.10,317.60 L75.00,318.10 L78.80,316.60 L83.70,315.20 L86.50,311.30 L90.40,300.80 L92.30,292.00 L93.60,284.00 L95.10,275.00 L97.10,263.00 L99.80,253.60 L103.80,241.50 L106.50,240.20 L109.20,234.80 L111.20,238.80 L113.30,236.20 L115.30,234.10 L117.30,234.80 L119.30,240.90 L121.10,236.20 L122.70,241.50 L125.40,253.60 L128.10,270.00 L130.50,275.50 L132.50,279.00 L136.25,297.50 L137.60,306.00 L140.00,313.00 L142.50,317.50 L145.00,319.30 L151.00,319.60 Z"/></clipPath></defs>
<path d="M33.0,319.6 L33.0,210.2 L151.1,210.2 L151.1,319.6 Z" fill="none" stroke="#222" stroke-width="1.3"/>
<path d="M33.00,319.60 L55.70,319.60 L58.50,316.00 L60.00,312.00 L61.50,308.20 L62.60,306.50 L64.00,308.30 L67.30,318.10 L72.10,317.60 L75.00,318.10 L78.80,316.60 L83.70,315.20 L86.50,311.30 L90.40,300.80 L92.30,292.00 L93.60,284.00 L95.10,275.00 L97.10,263.00 L99.80,253.60 L103.80,241.50 L106.50,240.20 L109.20,234.80 L111.20,238.80 L113.30,236.20 L115.30,234.10 L117.30,234.80 L119.30,240.90 L121.10,236.20 L122.70,241.50 L125.40,253.60 L128.10,270.00 L130.50,275.50 L132.50,279.00 L136.25,297.50 L137.60,306.00 L140.00,313.00 L142.50,317.50 L145.00,319.30 L151.00,319.60 Z" fill="#b3cde9" stroke="none" stroke-width="1"/>
<path d="M33.00,319.60 L56.00,319.60 L58.50,316.00 L60.00,312.00 L61.50,308.20 L62.60,306.50 L64.00,308.30 L66.80,316.20 L73.10,316.20 L75.00,317.40 L78.80,314.70 L83.70,313.30 L86.50,307.50 L89.40,297.90 L91.50,289.00 L92.40,278.00 L93.30,267.00 L95.10,263.00 L96.40,253.60 L97.80,246.20 L99.80,244.60 L101.20,232.40 L102.90,237.80 L104.50,233.20 L106.30,237.80 L108.50,231.00 L109.90,234.50 L111.20,241.50 L113.90,248.90 L116.60,260.40 L118.60,269.80 L120.50,277.00 L124.00,287.00 L126.25,298.75 L130.00,315.00 L133.50,319.30 L151.00,319.60 Z" fill="#d48b7b" stroke="none" stroke-width="1"/>
<path d="M33.00,319.60 L55.70,319.60 L58.50,316.00 L60.00,312.00 L61.50,308.20 L62.60,306.50 L64.00,308.30 L67.30,318.10 L72.10,317.60 L75.00,318.10 L78.80,316.60 L83.70,315.20 L86.50,311.30 L90.40,300.80 L92.30,292.00 L93.60,284.00 L95.10,275.00 L97.10,263.00 L99.80,253.60 L103.80,241.50 L106.50,240.20 L109.20,234.80 L111.20,238.80 L113.30,236.20 L115.30,234.10 L117.30,234.80 L119.30,240.90 L121.10,236.20 L122.70,241.50 L125.40,253.60 L128.10,270.00 L130.50,275.50 L132.50,279.00 L136.25,297.50 L137.60,306.00 L140.00,313.00 L142.50,317.50 L145.00,319.30 L151.00,319.60 Z" fill="#9a9cb0" clip-path="url(#clipRedE)"/>
<path d="M33.00,319.60 L56.00,319.60 L58.50,316.00 L60.00,312.00 L61.50,308.20 L62.60,306.50 L64.00,308.30 L66.80,316.20 L73.10,316.20 L75.00,317.40 L78.80,314.70 L83.70,313.30 L86.50,307.50 L89.40,297.90 L91.50,289.00 L92.40,278.00 L93.30,267.00 L95.10,263.00 L96.40,253.60 L97.80,246.20 L99.80,244.60 L101.20,232.40 L102.90,237.80 L104.50,233.20 L106.30,237.80 L108.50,231.00 L109.90,234.50 L111.20,241.50 L113.90,248.90 L116.60,260.40 L118.60,269.80 L120.50,277.00 L124.00,287.00 L126.25,298.75 L130.00,315.00 L133.50,319.30 L151.00,319.60" fill="none" stroke="#b0173f" stroke-width="1.1" stroke-linejoin="round"/>
<path d="M33.00,319.60 L56.00,319.60 L58.50,316.00 L60.00,312.00 L61.50,308.20 L62.60,306.50 L64.00,308.30 L66.80,316.20 L73.10,316.20 L75.00,317.40 L78.80,314.70 L83.70,313.30 L86.50,307.50 L89.40,297.90 L91.50,289.00 L92.40,278.00 L93.30,267.00 L95.10,263.00 L96.40,253.60 L97.80,246.20 L99.80,244.60 L101.20,232.40 L102.90,237.80 L104.50,233.20 L106.30,237.80 L108.50,231.00 L109.90,234.50 L111.20,241.50 L113.90,248.90 L116.60,260.40 L118.60,269.80 L120.50,277.00 L124.00,287.00 L126.25,298.75 L130.00,315.00 L133.50,319.30 L151.00,319.60" fill="none" stroke="#8c5a84" stroke-width="1.1" stroke-linejoin="round" clip-path="url(#clipBlueE)"/>
<path d="M33.00,319.60 L55.70,319.60 L58.50,316.00 L60.00,312.00 L61.50,308.20 L62.60,306.50 L64.00,308.30 L67.30,318.10 L72.10,317.60 L75.00,318.10 L78.80,316.60 L83.70,315.20 L86.50,311.30 L90.40,300.80 L92.30,292.00 L93.60,284.00 L95.10,275.00 L97.10,263.00 L99.80,253.60 L103.80,241.50 L106.50,240.20 L109.20,234.80 L111.20,238.80 L113.30,236.20 L115.30,234.10 L117.30,234.80 L119.30,240.90 L121.10,236.20 L122.70,241.50 L125.40,253.60 L128.10,270.00 L130.50,275.50 L132.50,279.00 L136.25,297.50 L137.60,306.00 L140.00,313.00 L142.50,317.50 L145.00,319.30 L151.00,319.60" fill="none" stroke="#5aa2e0" stroke-width="1.1" stroke-linejoin="round"/>
<line x1="30" y1="319.2" x2="33" y2="319.2" stroke="#000" stroke-width="0.8"/>
<line x1="31" y1="313.88" x2="33" y2="313.88" stroke="#000" stroke-width="0.8"/>
<line x1="31" y1="308.56" x2="33" y2="308.56" stroke="#000" stroke-width="0.8"/>
<line x1="31" y1="303.25" x2="33" y2="303.25" stroke="#000" stroke-width="0.8"/>
<line x1="30" y1="297.93" x2="33" y2="297.93" stroke="#000" stroke-width="0.8"/>
<line x1="31" y1="292.61" x2="33" y2="292.61" stroke="#000" stroke-width="0.8"/>
<line x1="31" y1="287.3" x2="33" y2="287.3" stroke="#000" stroke-width="0.8"/>
<line x1="31" y1="281.98" x2="33" y2="281.98" stroke="#000" stroke-width="0.8"/>
<line x1="30" y1="276.66" x2="33" y2="276.66" stroke="#000" stroke-width="0.8"/>
<line x1="31" y1="271.34" x2="33" y2="271.34" stroke="#000" stroke-width="0.8"/>
<line x1="31" y1="266.02" x2="33" y2="266.02" stroke="#000" stroke-width="0.8"/>
<line x1="31" y1="260.71" x2="33" y2="260.71" stroke="#000" stroke-width="0.8"/>
<line x1="30" y1="255.39" x2="33" y2="255.39" stroke="#000" stroke-width="0.8"/>
<line x1="31" y1="250.07" x2="33" y2="250.07" stroke="#000" stroke-width="0.8"/>
<line x1="31" y1="244.75" x2="33" y2="244.75" stroke="#000" stroke-width="0.8"/>
<line x1="31" y1="239.44" x2="33" y2="239.44" stroke="#000" stroke-width="0.8"/>
<line x1="30" y1="234.12" x2="33" y2="234.12" stroke="#000" stroke-width="0.8"/>
<line x1="31" y1="228.8" x2="33" y2="228.8" stroke="#000" stroke-width="0.8"/>
<line x1="31" y1="223.49" x2="33" y2="223.49" stroke="#000" stroke-width="0.8"/>
<line x1="31" y1="218.17" x2="33" y2="218.17" stroke="#000" stroke-width="0.8"/>
<line x1="30" y1="212.85" x2="33" y2="212.85" stroke="#000" stroke-width="0.8"/>
<text x="27.2" y="321.5" font-size="6.4" text-anchor="end" font-weight="normal" fill="#000" stroke="#000" stroke-width="0.06" textLength="3.5" lengthAdjust="spacingAndGlyphs">0</text>
<text x="27.2" y="300.23" font-size="6.4" text-anchor="end" font-weight="normal" fill="#000" stroke="#000" stroke-width="0.06" textLength="7" lengthAdjust="spacingAndGlyphs">10</text>
<text x="27.2" y="278.96" font-size="6.4" text-anchor="end" font-weight="normal" fill="#000" stroke="#000" stroke-width="0.06" textLength="7" lengthAdjust="spacingAndGlyphs">20</text>
<text x="27.2" y="257.69" font-size="6.4" text-anchor="end" font-weight="normal" fill="#000" stroke="#000" stroke-width="0.06" textLength="7" lengthAdjust="spacingAndGlyphs">30</text>
<text x="27.2" y="236.42" font-size="6.4" text-anchor="end" font-weight="normal" fill="#000" stroke="#000" stroke-width="0.06" textLength="7" lengthAdjust="spacingAndGlyphs">40</text>
<text x="27.2" y="215.15" font-size="6.4" text-anchor="end" font-weight="normal" fill="#000" stroke="#000" stroke-width="0.06" textLength="7" lengthAdjust="spacingAndGlyphs">50</text>
<text x="0" y="0" transform="translate(15.3,265.3) rotate(-90)" font-size="10.56" text-anchor="middle" font-weight="normal" fill="#000" stroke="#000" stroke-width="0.06" textLength="18.6" lengthAdjust="spacingAndGlyphs">Count</text>
<line x1="38.9" y1="319.6" x2="38.9" y2="322.2" stroke="#000" stroke-width="0.8"/>
<line x1="58.9" y1="319.6" x2="58.9" y2="322.2" stroke="#000" stroke-width="0.8"/>
<line x1="80.5" y1="319.6" x2="80.5" y2="322.2" stroke="#000" stroke-width="0.8"/>
<line x1="112.3" y1="319.6" x2="112.3" y2="322.2" stroke="#000" stroke-width="0.8"/>
<line x1="139.4" y1="319.6" x2="139.4" y2="322.2" stroke="#000" stroke-width="0.8"/>
<line x1="42.5" y1="319.6" x2="42.5" y2="321.1" stroke="#000" stroke-width="0.6"/>
<line x1="46" y1="319.6" x2="46" y2="321.1" stroke="#000" stroke-width="0.6"/>
<line x1="48.5" y1="319.6" x2="48.5" y2="321.1" stroke="#000" stroke-width="0.6"/>
<line x1="50.5" y1="319.6" x2="50.5" y2="321.1" stroke="#000" stroke-width="0.6"/>
<line x1="52.2" y1="319.6" x2="52.2" y2="321.1" stroke="#000" stroke-width="0.6"/>
<line x1="53.5" y1="319.6" x2="53.5" y2="321.1" stroke="#000" stroke-width="0.6"/>
<line x1="54.5" y1="319.6" x2="54.5" y2="321.1" stroke="#000" stroke-width="0.6"/>
<line x1="55.3" y1="319.6" x2="55.3" y2="321.1" stroke="#000" stroke-width="0.6"/>
<line x1="56" y1="319.6" x2="56" y2="321.1" stroke="#000" stroke-width="0.6"/>
<line x1="56.7" y1="319.6" x2="56.7" y2="321.1" stroke="#000" stroke-width="0.6"/>
<line x1="57.4" y1="319.6" x2="57.4" y2="321.1" stroke="#000" stroke-width="0.6"/>
<line x1="58.1" y1="319.6" x2="58.1" y2="321.1" stroke="#000" stroke-width="0.6"/>
<line x1="59.7" y1="319.6" x2="59.7" y2="321.1" stroke="#000" stroke-width="0.6"/>
<line x1="60.4" y1="319.6" x2="60.4" y2="321.1" stroke="#000" stroke-width="0.6"/>
<line x1="61.1" y1="319.6" x2="61.1" y2="321.1" stroke="#000" stroke-width="0.6"/>
<line x1="61.8" y1="319.6" x2="61.8" y2="321.1" stroke="#000" stroke-width="0.6"/>
<line x1="62.6" y1="319.6" x2="62.6" y2="321.1" stroke="#000" stroke-width="0.6"/>
<line x1="63.5" y1="319.6" x2="63.5" y2="321.1" stroke="#000" stroke-width="0.6"/>
<line x1="64.5" y1="319.6" x2="64.5" y2="321.1" stroke="#000" stroke-width="0.6"/>
<line x1="66" y1="319.6" x2="66" y2="321.1" stroke="#000" stroke-width="0.6"/>
<line x1="67.5" y1="319.6" x2="67.5" y2="321.1" stroke="#000" stroke-width="0.6"/>
<line x1="69.5" y1="319.6" x2="69.5" y2="321.1" stroke="#000" stroke-width="0.6"/>
<line x1="72" y1="319.6" x2="72" y2="321.1" stroke="#000" stroke-width="0.6"/>
<line x1="75" y1="319.6" x2="75" y2="321.1" stroke="#000" stroke-width="0.6"/>
<line x1="90.2" y1="319.6" x2="90.2" y2="321.1" stroke="#000" stroke-width="0.6"/>
<line x1="95" y1="319.6" x2="95" y2="321.1" stroke="#000" stroke-width="0.6"/>
<line x1="98.5" y1="319.6" x2="98.5" y2="321.1" stroke="#000" stroke-width="0.6"/>
<line x1="101.2" y1="319.6" x2="101.2" y2="321.1" stroke="#000" stroke-width="0.6"/>
<line x1="103.5" y1="319.6" x2="103.5" y2="321.1" stroke="#000" stroke-width="0.6"/>
<line x1="105.3" y1="319.6" x2="105.3" y2="321.1" stroke="#000" stroke-width="0.6"/>
<line x1="107" y1="319.6" x2="107" y2="321.1" stroke="#000" stroke-width="0.6"/>
<line x1="108.5" y1="319.6" x2="108.5" y2="321.1" stroke="#000" stroke-width="0.6"/>
<line x1="110" y1="319.6" x2="110" y2="321.1" stroke="#000" stroke-width="0.6"/>
<line x1="111.2" y1="319.6" x2="111.2" y2="321.1" stroke="#000" stroke-width="0.6"/>
<line x1="121.5" y1="319.6" x2="121.5" y2="321.1" stroke="#000" stroke-width="0.6"/>
<line x1="127" y1="319.6" x2="127" y2="321.1" stroke="#000" stroke-width="0.6"/>
<line x1="130.8" y1="319.6" x2="130.8" y2="321.1" stroke="#000" stroke-width="0.6"/>
<line x1="133.5" y1="319.6" x2="133.5" y2="321.1" stroke="#000" stroke-width="0.6"/>
<line x1="135.8" y1="319.6" x2="135.8" y2="321.1" stroke="#000" stroke-width="0.6"/>
<line x1="137.6" y1="319.6" x2="137.6" y2="321.1" stroke="#000" stroke-width="0.6"/>
<line x1="148.8" y1="319.6" x2="148.8" y2="321.1" stroke="#000" stroke-width="0.6"/>
<text x="32.75" y="331.7" font-size="7" text-anchor="start" font-weight="normal" fill="#000" stroke="#000" stroke-width="0.06" textLength="2.2" lengthAdjust="spacingAndGlyphs">-</text>
<text x="35.15" y="331.7" font-size="7" text-anchor="start" font-weight="normal" fill="#000" stroke="#000" stroke-width="0.06" textLength="7" lengthAdjust="spacingAndGlyphs">10</text>
<text x="42.55" y="328.8" font-size="4.8" text-anchor="start" font-weight="normal" fill="#000" textLength="2.5" lengthAdjust="spacingAndGlyphs">3</text>
<text x="58.9" y="331.7" font-size="7" text-anchor="middle" font-weight="normal" fill="#000" stroke="#000" stroke-width="0.06" textLength="4" lengthAdjust="spacingAndGlyphs">0</text>
<text x="75.65" y="331.7" font-size="7" text-anchor="start" font-weight="normal" fill="#000" stroke="#000" stroke-width="0.06" textLength="6.8" lengthAdjust="spacingAndGlyphs">10</text>
<text x="82.85" y="328.8" font-size="4.8" text-anchor="start" font-weight="normal" fill="#000" textLength="2.5" lengthAdjust="spacingAndGlyphs">3</text>
<text x="107.45" y="331.7" font-size="7" text-anchor="start" font-weight="normal" fill="#000" stroke="#000" stroke-width="0.06" textLength="6.8" lengthAdjust="spacingAndGlyphs">10</text>
<text x="114.65" y="328.8" font-size="4.8" text-anchor="start" font-weight="normal" fill="#000" textLength="2.5" lengthAdjust="spacingAndGlyphs">4</text>
<text x="134.55" y="331.7" font-size="7" text-anchor="start" font-weight="normal" fill="#000" stroke="#000" stroke-width="0.06" textLength="6.8" lengthAdjust="spacingAndGlyphs">10</text>
<text x="141.75" y="328.8" font-size="4.8" text-anchor="start" font-weight="normal" fill="#000" textLength="2.5" lengthAdjust="spacingAndGlyphs">5</text>
<text x="66.2" y="343.5" font-size="8.2" text-anchor="start" font-weight="normal" fill="#000" stroke="#000" stroke-width="0.06" textLength="52.2" lengthAdjust="spacingAndGlyphs">Alexa fluor 488-A</text>
<text x="101" y="218.5" font-size="6" text-anchor="start" font-weight="normal" fill="#000" stroke="#000" stroke-width="0.06" textLength="25" lengthAdjust="spacingAndGlyphs">H929 with</text>
<text x="101" y="225.3" font-size="6" text-anchor="start" font-weight="normal" fill="#000" stroke="#000" stroke-width="0.06" textLength="27.5" lengthAdjust="spacingAndGlyphs">14-3-3ζ KO</text>
<line x1="66.4" y1="217.1" x2="66.4" y2="256.6" stroke="#000" stroke-width="1"/>
<line x1="66.4" y1="256.6" x2="91.1" y2="256.6" stroke="#000" stroke-width="1"/>
<line x1="64.8" y1="256.6" x2="66.4" y2="256.6" stroke="#000" stroke-width="0.6"/>
<text x="63.3" y="258.2" font-size="4.6" text-anchor="end" font-weight="normal" fill="#000" textLength="2.6" lengthAdjust="spacingAndGlyphs">0</text>
<line x1="64.8" y1="247.21" x2="66.4" y2="247.21" stroke="#000" stroke-width="0.6"/>
<text x="63.3" y="248.81" font-size="4.6" text-anchor="end" font-weight="normal" fill="#000" textLength="5.2" lengthAdjust="spacingAndGlyphs">50</text>
<line x1="64.8" y1="237.82" x2="66.4" y2="237.82" stroke="#000" stroke-width="0.6"/>
<text x="63.3" y="239.42" font-size="4.6" text-anchor="end" font-weight="normal" fill="#000" textLength="7.8" lengthAdjust="spacingAndGlyphs">100</text>
<line x1="64.8" y1="228.43" x2="66.4" y2="228.43" stroke="#000" stroke-width="0.6"/>
<text x="63.3" y="230.03" font-size="4.6" text-anchor="end" font-weight="normal" fill="#000" textLength="7.8" lengthAdjust="spacingAndGlyphs">150</text>
<line x1="64.8" y1="219.04" x2="66.4" y2="219.04" stroke="#000" stroke-width="0.6"/>
<text x="63.3" y="220.64" font-size="4.6" text-anchor="end" font-weight="normal" fill="#000" textLength="7.8" lengthAdjust="spacingAndGlyphs">200</text>
<path d="M70.64999999999999,256.6 L70.64999999999999,238.37000000000003 L76.75,238.37000000000003 L76.75,256.6" fill="none" stroke="#c02a50" stroke-width="1.1"/>
<path d="M80.75,256.6 L80.75,227.47760000000002 L87.15,227.47760000000002 L87.15,256.6" fill="none" stroke="#6aaee6" stroke-width="1.1"/>
<line x1="83.95" y1="226.93" x2="83.95" y2="225.61" stroke="#6aaee6" stroke-width="0.9"/>
<line x1="82.25" y1="225.61" x2="85.65" y2="225.61" stroke="#6aaee6" stroke-width="0.9"/>
<path d="M73.6,235.9 L73.6,222.9 L84.1,222.9 L84.1,224.4" fill="none" stroke="#111" stroke-width="1.1" stroke-linejoin="round"/>
<circle cx="76.20" cy="220.40" r="0.55" fill="#111"/>
<circle cx="78.40" cy="220.40" r="0.55" fill="#111"/>
<circle cx="80.60" cy="220.40" r="0.55" fill="#111"/>
<circle cx="82.80" cy="220.40" r="0.55" fill="#111"/>
<line x1="73.5" y1="256.6" x2="73.5" y2="258.2" stroke="#000" stroke-width="0.6"/>
<line x1="83.9" y1="256.6" x2="83.9" y2="258.2" stroke="#000" stroke-width="0.6"/>
<text x="0" y="0" transform="translate(75.1,261.4) rotate(-45)" font-size="4.8" text-anchor="end" font-weight="normal" fill="#000" textLength="11" lengthAdjust="spacingAndGlyphs">empty</text>
<text x="0" y="0" transform="translate(85.5,261.4) rotate(-45)" font-size="4.8" text-anchor="end" font-weight="normal" fill="#000" textLength="13.2" lengthAdjust="spacingAndGlyphs">14-3-3ζ</text>
<text x="0" y="0" transform="translate(43.06,237) rotate(-90)" font-size="5.88" text-anchor="middle" font-weight="normal" fill="#000" textLength="36.4" lengthAdjust="spacingAndGlyphs">MFI (% compare</text>
<text x="0" y="0" transform="translate(51.06,236.4) rotate(-90)" font-size="5.88" text-anchor="middle" font-weight="normal" fill="#000" textLength="22.8" lengthAdjust="spacingAndGlyphs">to control)</text>
<line x1="206.8" y1="182" x2="206.8" y2="251.8" stroke="#000" stroke-width="1.2"/>
<line x1="206.8" y1="251.8" x2="252.7" y2="251.8" stroke="#000" stroke-width="1.2"/>
<line x1="203.8" y1="242.3" x2="206.8" y2="242.3" stroke="#000" stroke-width="0.8"/>
<text x="200.9" y="244.7" font-size="6.9" text-anchor="end" font-weight="normal" fill="#000" stroke="#000" stroke-width="0.06" textLength="7.3" lengthAdjust="spacingAndGlyphs">60</text>
<line x1="203.8" y1="222.9" x2="206.8" y2="222.9" stroke="#000" stroke-width="0.8"/>
<text x="200.9" y="225.3" font-size="6.9" text-anchor="end" font-weight="normal" fill="#000" stroke="#000" stroke-width="0.06" textLength="7.3" lengthAdjust="spacingAndGlyphs">80</text>
<line x1="203.8" y1="203.5" x2="206.8" y2="203.5" stroke="#000" stroke-width="0.8"/>
<text x="200.9" y="205.9" font-size="6.9" text-anchor="end" font-weight="normal" fill="#000" stroke="#000" stroke-width="0.06" textLength="10.95" lengthAdjust="spacingAndGlyphs">100</text>
<line x1="203.8" y1="184.1" x2="206.8" y2="184.1" stroke="#000" stroke-width="0.8"/>
<text x="200.9" y="186.5" font-size="6.9" text-anchor="end" font-weight="normal" fill="#000" stroke="#000" stroke-width="0.06" textLength="10.95" lengthAdjust="spacingAndGlyphs">120</text>
<line x1="215.7" y1="251.8" x2="215.7" y2="255" stroke="#000" stroke-width="0.8"/>
<line x1="229.5" y1="251.8" x2="229.5" y2="255" stroke="#000" stroke-width="0.8"/>
<line x1="243.4" y1="251.8" x2="243.4" y2="255" stroke="#000" stroke-width="0.8"/>
<rect x="211.1" y="203.3" width="9.2" height="48.5" fill="#a50d2d" stroke="none" stroke-width="1"/>
<line x1="229.55" y1="216.59" x2="229.55" y2="214.36" stroke="#2e4a7e" stroke-width="1.1"/>
<line x1="227.25" y1="214.36" x2="231.85" y2="214.36" stroke="#2e4a7e" stroke-width="1.1"/>
<rect x="224.9" y="216.4" width="9.3" height="35.41" fill="#2e4a7e" stroke="none" stroke-width="1"/>
<line x1="243.7" y1="219.02" x2="243.7" y2="217.27" stroke="#84c25c" stroke-width="1.1"/>
<line x1="241.4" y1="217.27" x2="246" y2="217.27" stroke="#84c25c" stroke-width="1.1"/>
<rect x="239.1" y="218.82" width="9.2" height="32.98" fill="#68a33d" stroke="none" stroke-width="1"/>
<text x="229.9" y="175.3" font-size="9" text-anchor="middle" font-weight="normal" fill="#000" stroke="#000" stroke-width="0.1" textLength="21.6" lengthAdjust="spacingAndGlyphs">H929</text>
<text x="0" y="0" transform="translate(217.9,263.1) rotate(-45)" font-size="8.43" text-anchor="end" font-weight="normal" fill="#000" stroke="#000" stroke-width="0.1" textLength="19.6" lengthAdjust="spacingAndGlyphs">pLKO.1</text>
<text x="0" y="0" transform="translate(231.7,263.1) rotate(-45)" font-size="8.43" text-anchor="end" font-weight="normal" fill="#000" stroke="#000" stroke-width="0.1" textLength="11.5" lengthAdjust="spacingAndGlyphs">sh#1</text>
<text x="0" y="0" transform="translate(245.6,263.1) rotate(-45)" font-size="8.43" text-anchor="end" font-weight="normal" fill="#000" stroke="#000" stroke-width="0.1" textLength="11.5" lengthAdjust="spacingAndGlyphs">sh#2</text>
<path d="M215.7,194.5 L215.7,192.6 L243.9,192.6 L243.9,213.8" fill="none" stroke="#3f5e9c" stroke-width="0.9" stroke-linejoin="round"/>
<path d="M215.7,200.9 L215.7,199.0 L229.9,199.0 L229.9,211.6" fill="none" stroke="#3f5e9c" stroke-width="0.9" stroke-linejoin="round"/>
<circle cx="225.38" cy="189.10" r="0.95" fill="#111"/>
<circle cx="228.53" cy="189.10" r="0.95" fill="#111"/>
<circle cx="231.68" cy="189.10" r="0.95" fill="#111"/>
<circle cx="234.82" cy="189.10" r="0.95" fill="#111"/>
<circle cx="217.97" cy="195.60" r="0.95" fill="#111"/>
<circle cx="221.12" cy="195.60" r="0.95" fill="#111"/>
<circle cx="224.28" cy="195.60" r="0.95" fill="#111"/>
<circle cx="227.42" cy="195.60" r="0.95" fill="#111"/>
<text x="0" y="0" transform="translate(174.62,216.2) rotate(-90)" font-size="8.64" text-anchor="middle" font-weight="normal" fill="#000" stroke="#000" stroke-width="0.06" textLength="61" lengthAdjust="spacingAndGlyphs">Kappa positive cells</text>
<text x="0" y="0" transform="translate(184.22,216.7) rotate(-90)" font-size="8.64" text-anchor="middle" font-weight="normal" fill="#000" stroke="#000" stroke-width="0.06" textLength="68.3" lengthAdjust="spacingAndGlyphs">(% compare to control)</text>
<line x1="279.4" y1="183" x2="279.4" y2="252" stroke="#000" stroke-width="1.2"/>
<line x1="279.4" y1="252" x2="325.5" y2="252" stroke="#000" stroke-width="1.2"/>
<line x1="276.4" y1="242.7" x2="279.4" y2="242.7" stroke="#000" stroke-width="0.8"/>
<text x="273.5" y="245.1" font-size="6.9" text-anchor="end" font-weight="normal" fill="#000" stroke="#000" stroke-width="0.06" textLength="7.3" lengthAdjust="spacingAndGlyphs">60</text>
<line x1="276.4" y1="223.7" x2="279.4" y2="223.7" stroke="#000" stroke-width="0.8"/>
<text x="273.5" y="226.1" font-size="6.9" text-anchor="end" font-weight="normal" fill="#000" stroke="#000" stroke-width="0.06" textLength="7.3" lengthAdjust="spacingAndGlyphs">80</text>
<line x1="276.4" y1="204.7" x2="279.4" y2="204.7" stroke="#000" stroke-width="0.8"/>
<text x="273.5" y="207.1" font-size="6.9" text-anchor="end" font-weight="normal" fill="#000" stroke="#000" stroke-width="0.06" textLength="10.95" lengthAdjust="spacingAndGlyphs">100</text>
<line x1="276.4" y1="185.7" x2="279.4" y2="185.7" stroke="#000" stroke-width="0.8"/>
<text x="273.5" y="188.1" font-size="6.9" text-anchor="end" font-weight="normal" fill="#000" stroke="#000" stroke-width="0.06" textLength="10.95" lengthAdjust="spacingAndGlyphs">120</text>
<line x1="288.4" y1="252" x2="288.4" y2="255.2" stroke="#000" stroke-width="0.8"/>
<line x1="302" y1="252" x2="302" y2="255.2" stroke="#000" stroke-width="0.8"/>
<line x1="315.6" y1="252" x2="315.6" y2="255.2" stroke="#000" stroke-width="0.8"/>
<line x1="288.25" y1="204.7" x2="288.25" y2="202.99" stroke="#a50d2d" stroke-width="1.1"/>
<line x1="285.95" y1="202.99" x2="290.55" y2="202.99" stroke="#a50d2d" stroke-width="1.1"/>
<rect x="283.6" y="204.5" width="9.3" height="47.5" fill="#a50d2d" stroke="none" stroke-width="1"/>
<line x1="302.05" y1="220.85" x2="302.05" y2="218" stroke="#2e4a7e" stroke-width="1.1"/>
<line x1="299.75" y1="218" x2="304.35" y2="218" stroke="#2e4a7e" stroke-width="1.1"/>
<rect x="297.4" y="220.65" width="9.3" height="31.35" fill="#2e4a7e" stroke="none" stroke-width="1"/>
<line x1="315.75" y1="224.65" x2="315.75" y2="223.13" stroke="#84c25c" stroke-width="1.1"/>
<line x1="313.45" y1="223.13" x2="318.05" y2="223.13" stroke="#84c25c" stroke-width="1.1"/>
<rect x="311.1" y="224.45" width="9.3" height="27.55" fill="#68a33d" stroke="none" stroke-width="1"/>
<text x="302.2" y="175.7" font-size="9" text-anchor="middle" font-weight="normal" fill="#000" stroke="#000" stroke-width="0.1" textLength="20.6" lengthAdjust="spacingAndGlyphs">JJN3</text>
<text x="0" y="0" transform="translate(290.6,263.3) rotate(-45)" font-size="8.43" text-anchor="end" font-weight="normal" fill="#000" stroke="#000" stroke-width="0.1" textLength="19.6" lengthAdjust="spacingAndGlyphs">pLKO.1</text>
<text x="0" y="0" transform="translate(304.2,263.3) rotate(-45)" font-size="8.43" text-anchor="end" font-weight="normal" fill="#000" stroke="#000" stroke-width="0.1" textLength="11.5" lengthAdjust="spacingAndGlyphs">sh#1</text>
<text x="0" y="0" transform="translate(317.8,263.3) rotate(-45)" font-size="8.43" text-anchor="end" font-weight="normal" fill="#000" stroke="#000" stroke-width="0.1" textLength="11.5" lengthAdjust="spacingAndGlyphs">sh#2</text>
<path d="M288.4,193.3 L288.4,191.5 L315.4,191.5 L315.4,222.2" fill="none" stroke="#3f5e9c" stroke-width="0.9" stroke-linejoin="round"/>
<path d="M288.4,201.4 L288.4,199.6 L302.1,199.6 L302.1,213.8" fill="none" stroke="#3f5e9c" stroke-width="0.9" stroke-linejoin="round"/>
<circle cx="297.38" cy="188.80" r="0.95" fill="#111"/>
<circle cx="300.52" cy="188.80" r="0.95" fill="#111"/>
<circle cx="303.68" cy="188.80" r="0.95" fill="#111"/>
<circle cx="306.82" cy="188.80" r="0.95" fill="#111"/>
<circle cx="290.57" cy="196.20" r="0.95" fill="#111"/>
<circle cx="293.72" cy="196.20" r="0.95" fill="#111"/>
<circle cx="296.88" cy="196.20" r="0.95" fill="#111"/>
<circle cx="300.02" cy="196.20" r="0.95" fill="#111"/>
<line x1="356.1" y1="180" x2="356.1" y2="251.8" stroke="#000" stroke-width="1.2"/>
<line x1="356.1" y1="251.8" x2="403.9" y2="251.8" stroke="#000" stroke-width="1.2"/>
<line x1="353.1" y1="242" x2="356.1" y2="242" stroke="#000" stroke-width="0.8"/>
<text x="350.2" y="244.4" font-size="6.9" text-anchor="end" font-weight="normal" fill="#000" stroke="#000" stroke-width="0.06" textLength="7.3" lengthAdjust="spacingAndGlyphs">60</text>
<line x1="353.1" y1="222.1" x2="356.1" y2="222.1" stroke="#000" stroke-width="0.8"/>
<text x="350.2" y="224.5" font-size="6.9" text-anchor="end" font-weight="normal" fill="#000" stroke="#000" stroke-width="0.06" textLength="7.3" lengthAdjust="spacingAndGlyphs">80</text>
<line x1="353.1" y1="202.2" x2="356.1" y2="202.2" stroke="#000" stroke-width="0.8"/>
<text x="350.2" y="204.6" font-size="6.9" text-anchor="end" font-weight="normal" fill="#000" stroke="#000" stroke-width="0.06" textLength="10.95" lengthAdjust="spacingAndGlyphs">100</text>
<line x1="353.1" y1="182.3" x2="356.1" y2="182.3" stroke="#000" stroke-width="0.8"/>
<text x="350.2" y="184.7" font-size="6.9" text-anchor="end" font-weight="normal" fill="#000" stroke="#000" stroke-width="0.06" textLength="10.95" lengthAdjust="spacingAndGlyphs">120</text>
<line x1="365.2" y1="251.8" x2="365.2" y2="255" stroke="#000" stroke-width="0.8"/>
<line x1="379.6" y1="251.8" x2="379.6" y2="255" stroke="#000" stroke-width="0.8"/>
<line x1="393.8" y1="251.8" x2="393.8" y2="255" stroke="#000" stroke-width="0.8"/>
<rect x="360.6" y="202" width="9.3" height="49.8" fill="#a50d2d" stroke="none" stroke-width="1"/>
<line x1="379.45" y1="213.14" x2="379.45" y2="212.65" stroke="#2e4a7e" stroke-width="1.1"/>
<line x1="377.15" y1="212.65" x2="381.75" y2="212.65" stroke="#2e4a7e" stroke-width="1.1"/>
<rect x="374.8" y="212.94" width="9.3" height="38.86" fill="#2e4a7e" stroke="none" stroke-width="1"/>
<line x1="393.95" y1="209.66" x2="393.95" y2="207.97" stroke="#84c25c" stroke-width="1.1"/>
<line x1="391.65" y1="207.97" x2="396.25" y2="207.97" stroke="#84c25c" stroke-width="1.1"/>
<rect x="389.2" y="209.46" width="9.5" height="42.34" fill="#68a33d" stroke="none" stroke-width="1"/>
<text x="380" y="175.7" font-size="9" text-anchor="middle" font-weight="normal" fill="#000" stroke="#000" stroke-width="0.1" textLength="26.6" lengthAdjust="spacingAndGlyphs">AMO1</text>
<text x="0" y="0" transform="translate(367.4,263.1) rotate(-45)" font-size="8.43" text-anchor="end" font-weight="normal" fill="#000" stroke="#000" stroke-width="0.1" textLength="19.6" lengthAdjust="spacingAndGlyphs">pLKO.1</text>
<text x="0" y="0" transform="translate(381.8,263.1) rotate(-45)" font-size="8.43" text-anchor="end" font-weight="normal" fill="#000" stroke="#000" stroke-width="0.1" textLength="11.5" lengthAdjust="spacingAndGlyphs">sh#1</text>
<text x="0" y="0" transform="translate(396,263.1) rotate(-45)" font-size="8.43" text-anchor="end" font-weight="normal" fill="#000" stroke="#000" stroke-width="0.1" textLength="11.5" lengthAdjust="spacingAndGlyphs">sh#2</text>
<path d="M365.2,192.3 L365.2,190.5 L394.8,190.5 L394.8,205.3" fill="none" stroke="#3f5e9c" stroke-width="0.9" stroke-linejoin="round"/>
<path d="M365.2,200.1 L365.2,198.3 L380.4,198.3 L380.4,210.6" fill="none" stroke="#3f5e9c" stroke-width="0.9" stroke-linejoin="round"/>
<circle cx="375.27" cy="187.80" r="0.95" fill="#111"/>
<circle cx="378.42" cy="187.80" r="0.95" fill="#111"/>
<circle cx="381.57" cy="187.80" r="0.95" fill="#111"/>
<circle cx="384.72" cy="187.80" r="0.95" fill="#111"/>
<circle cx="367.88" cy="195.10" r="0.95" fill="#111"/>
<circle cx="371.02" cy="195.10" r="0.95" fill="#111"/>
<circle cx="374.18" cy="195.10" r="0.95" fill="#111"/>
<circle cx="377.32" cy="195.10" r="0.95" fill="#111"/>
<line x1="206.8" y1="326" x2="206.8" y2="394.6" stroke="#000" stroke-width="1.2"/>
<line x1="206.8" y1="394.6" x2="255.5" y2="394.6" stroke="#000" stroke-width="1.2"/>
<line x1="203.8" y1="394.6" x2="206.8" y2="394.6" stroke="#000" stroke-width="0.8"/>
<text x="200.9" y="397" font-size="6.9" text-anchor="end" font-weight="normal" fill="#000" stroke="#000" stroke-width="0.06" textLength="3.65" lengthAdjust="spacingAndGlyphs">0</text>
<line x1="203.8" y1="366.05" x2="206.8" y2="366.05" stroke="#000" stroke-width="0.8"/>
<text x="200.9" y="368.45" font-size="6.9" text-anchor="end" font-weight="normal" fill="#000" stroke="#000" stroke-width="0.06" textLength="7.3" lengthAdjust="spacingAndGlyphs">50</text>
<line x1="203.8" y1="337.5" x2="206.8" y2="337.5" stroke="#000" stroke-width="0.8"/>
<text x="200.9" y="339.9" font-size="6.9" text-anchor="end" font-weight="normal" fill="#000" stroke="#000" stroke-width="0.06" textLength="10.95" lengthAdjust="spacingAndGlyphs">100</text>
<line x1="216.4" y1="394.6" x2="216.4" y2="397.8" stroke="#000" stroke-width="0.8"/>
<line x1="230.7" y1="394.6" x2="230.7" y2="397.8" stroke="#000" stroke-width="0.8"/>
<line x1="246" y1="394.6" x2="246" y2="397.8" stroke="#000" stroke-width="0.8"/>
<line x1="216.35" y1="337.5" x2="216.35" y2="332.36" stroke="#a50d2d" stroke-width="1.1"/>
<line x1="214.05" y1="332.36" x2="218.65" y2="332.36" stroke="#a50d2d" stroke-width="1.1"/>
<rect x="211.8" y="337.3" width="9.1" height="57.3" fill="#a50d2d" stroke="none" stroke-width="1"/>
<line x1="231.15" y1="370.33" x2="231.15" y2="365.48" stroke="#2e4a7e" stroke-width="1.1"/>
<line x1="228.85" y1="365.48" x2="233.45" y2="365.48" stroke="#2e4a7e" stroke-width="1.1"/>
<rect x="226.6" y="370.13" width="9.1" height="24.47" fill="#2e4a7e" stroke="none" stroke-width="1"/>
<line x1="245.95" y1="378.04" x2="245.95" y2="366.91" stroke="#84c25c" stroke-width="1.1"/>
<line x1="243.65" y1="366.91" x2="248.25" y2="366.91" stroke="#84c25c" stroke-width="1.1"/>
<rect x="241.4" y="377.84" width="9.1" height="16.76" fill="#68a33d" stroke="none" stroke-width="1"/>
<text x="229.9" y="316.4" font-size="9" text-anchor="middle" font-weight="normal" fill="#000" stroke="#000" stroke-width="0.1" textLength="21.6" lengthAdjust="spacingAndGlyphs">H929</text>
<text x="0" y="0" transform="translate(218.6,405.9) rotate(-45)" font-size="8.43" text-anchor="end" font-weight="normal" fill="#000" stroke="#000" stroke-width="0.1" textLength="19.6" lengthAdjust="spacingAndGlyphs">pLKO.1</text>
<text x="0" y="0" transform="translate(232.9,405.9) rotate(-45)" font-size="8.43" text-anchor="end" font-weight="normal" fill="#000" stroke="#000" stroke-width="0.1" textLength="11.5" lengthAdjust="spacingAndGlyphs">sh#1</text>
<text x="0" y="0" transform="translate(248.2,405.9) rotate(-45)" font-size="8.43" text-anchor="end" font-weight="normal" fill="#000" stroke="#000" stroke-width="0.1" textLength="11.5" lengthAdjust="spacingAndGlyphs">sh#2</text>
<path d="M216.4,329.0 L216.4,327.3 L246.2,327.3 L246.2,360.1" fill="none" stroke="#000" stroke-width="0.9" stroke-linejoin="round"/>
<path d="M216.4,336.4 L216.4,334.7 L230.6,334.7 L230.6,360.1" fill="none" stroke="#000" stroke-width="0.9" stroke-linejoin="round"/>
<circle cx="226.35" cy="324.80" r="0.95" fill="#111"/>
<circle cx="229.50" cy="324.80" r="0.95" fill="#111"/>
<circle cx="232.65" cy="324.80" r="0.95" fill="#111"/>
<circle cx="221.12" cy="331.10" r="0.95" fill="#111"/>
<circle cx="224.28" cy="331.10" r="0.95" fill="#111"/>
<text x="0" y="0" transform="translate(174.62,360.4) rotate(-90)" font-size="8.64" text-anchor="middle" font-weight="normal" fill="#000" stroke="#000" stroke-width="0.06" textLength="58.8" lengthAdjust="spacingAndGlyphs">Secreted M-protein</text>
<text x="0" y="0" transform="translate(184.42,360.1) rotate(-90)" font-size="8.64" text-anchor="middle" font-weight="normal" fill="#000" stroke="#000" stroke-width="0.06" textLength="70" lengthAdjust="spacingAndGlyphs">(% compare to control)</text>
<line x1="279.5" y1="324.8" x2="279.5" y2="394.7" stroke="#000" stroke-width="1.2"/>
<line x1="279.5" y1="394.7" x2="329.6" y2="394.7" stroke="#000" stroke-width="1.2"/>
<line x1="276.5" y1="394.7" x2="279.5" y2="394.7" stroke="#000" stroke-width="0.8"/>
<text x="273.6" y="397.1" font-size="6.9" text-anchor="end" font-weight="normal" fill="#000" stroke="#000" stroke-width="0.06" textLength="3.65" lengthAdjust="spacingAndGlyphs">0</text>
<line x1="276.5" y1="365.45" x2="279.5" y2="365.45" stroke="#000" stroke-width="0.8"/>
<text x="273.6" y="367.85" font-size="6.9" text-anchor="end" font-weight="normal" fill="#000" stroke="#000" stroke-width="0.06" textLength="7.3" lengthAdjust="spacingAndGlyphs">50</text>
<line x1="276.5" y1="336.2" x2="279.5" y2="336.2" stroke="#000" stroke-width="0.8"/>
<text x="273.6" y="338.6" font-size="6.9" text-anchor="end" font-weight="normal" fill="#000" stroke="#000" stroke-width="0.06" textLength="10.95" lengthAdjust="spacingAndGlyphs">100</text>
<line x1="289" y1="394.7" x2="289" y2="397.9" stroke="#000" stroke-width="0.8"/>
<line x1="304.2" y1="394.7" x2="304.2" y2="397.9" stroke="#000" stroke-width="0.8"/>
<line x1="319.5" y1="394.7" x2="319.5" y2="397.9" stroke="#000" stroke-width="0.8"/>
<rect x="284.9" y="336" width="9.1" height="58.7" fill="#a50d2d" stroke="none" stroke-width="1"/>
<line x1="304.35" y1="372.47" x2="304.35" y2="369.55" stroke="#2e4a7e" stroke-width="1.1"/>
<line x1="302.05" y1="369.55" x2="306.65" y2="369.55" stroke="#2e4a7e" stroke-width="1.1"/>
<rect x="299.9" y="372.27" width="8.9" height="22.43" fill="#2e4a7e" stroke="none" stroke-width="1"/>
<line x1="319.35" y1="371.88" x2="319.35" y2="371.3" stroke="#84c25c" stroke-width="1.1"/>
<line x1="317.05" y1="371.3" x2="321.65" y2="371.3" stroke="#84c25c" stroke-width="1.1"/>
<rect x="314.9" y="371.69" width="8.9" height="23.01" fill="#68a33d" stroke="none" stroke-width="1"/>
<text x="304.4" y="316.4" font-size="9" text-anchor="middle" font-weight="normal" fill="#000" stroke="#000" stroke-width="0.1" textLength="20.6" lengthAdjust="spacingAndGlyphs">JJN3</text>
<text x="0" y="0" transform="translate(291.2,406) rotate(-45)" font-size="8.43" text-anchor="end" font-weight="normal" fill="#000" stroke="#000" stroke-width="0.1" textLength="19.6" lengthAdjust="spacingAndGlyphs">pLKO.1</text>
<text x="0" y="0" transform="translate(306.4,406) rotate(-45)" font-size="8.43" text-anchor="end" font-weight="normal" fill="#000" stroke="#000" stroke-width="0.1" textLength="11.5" lengthAdjust="spacingAndGlyphs">sh#1</text>
<text x="0" y="0" transform="translate(321.7,406) rotate(-45)" font-size="8.43" text-anchor="end" font-weight="normal" fill="#000" stroke="#000" stroke-width="0.1" textLength="11.5" lengthAdjust="spacingAndGlyphs">sh#2</text>
<path d="M289.1,327.8 L289.1,326.1 L319.4,326.1 L319.4,369.6" fill="none" stroke="#000" stroke-width="0.9" stroke-linejoin="round"/>
<path d="M289.1,334.8 L289.1,333.1 L304.5,333.1 L304.5,365.8" fill="none" stroke="#000" stroke-width="0.9" stroke-linejoin="round"/>
<circle cx="301.35" cy="322.50" r="0.95" fill="#111"/>
<circle cx="304.50" cy="322.50" r="0.95" fill="#111"/>
<circle cx="307.65" cy="322.50" r="0.95" fill="#111"/>
<circle cx="294.93" cy="329.60" r="0.95" fill="#111"/>
<circle cx="298.07" cy="329.60" r="0.95" fill="#111"/>
<circle cx="296.00" cy="336.00" r="0.95" fill="#111"/>
<line x1="356.1" y1="324.8" x2="356.1" y2="394.7" stroke="#000" stroke-width="1.2"/>
<line x1="356.1" y1="394.7" x2="406" y2="394.7" stroke="#000" stroke-width="1.2"/>
<line x1="353.1" y1="394.7" x2="356.1" y2="394.7" stroke="#000" stroke-width="0.8"/>
<text x="350.2" y="397.1" font-size="6.9" text-anchor="end" font-weight="normal" fill="#000" stroke="#000" stroke-width="0.06" textLength="3.65" lengthAdjust="spacingAndGlyphs">0</text>
<line x1="353.1" y1="365.55" x2="356.1" y2="365.55" stroke="#000" stroke-width="0.8"/>
<text x="350.2" y="367.95" font-size="6.9" text-anchor="end" font-weight="normal" fill="#000" stroke="#000" stroke-width="0.06" textLength="7.3" lengthAdjust="spacingAndGlyphs">50</text>
<line x1="353.1" y1="336.4" x2="356.1" y2="336.4" stroke="#000" stroke-width="0.8"/>
<text x="350.2" y="338.8" font-size="6.9" text-anchor="end" font-weight="normal" fill="#000" stroke="#000" stroke-width="0.06" textLength="10.95" lengthAdjust="spacingAndGlyphs">100</text>
<line x1="365.8" y1="394.7" x2="365.8" y2="397.9" stroke="#000" stroke-width="0.8"/>
<line x1="380.6" y1="394.7" x2="380.6" y2="397.9" stroke="#000" stroke-width="0.8"/>
<line x1="395.4" y1="394.7" x2="395.4" y2="397.9" stroke="#000" stroke-width="0.8"/>
<line x1="365.95" y1="337.39" x2="365.95" y2="332.61" stroke="#a50d2d" stroke-width="1.1"/>
<line x1="363.65" y1="332.61" x2="368.25" y2="332.61" stroke="#a50d2d" stroke-width="1.1"/>
<rect x="361.5" y="337.19" width="8.9" height="57.51" fill="#a50d2d" stroke="none" stroke-width="1"/>
<line x1="380.85" y1="385.95" x2="380.85" y2="383.62" stroke="#2e4a7e" stroke-width="1.1"/>
<line x1="378.55" y1="383.62" x2="383.15" y2="383.62" stroke="#2e4a7e" stroke-width="1.1"/>
<rect x="376.5" y="385.75" width="8.7" height="8.95" fill="#2e4a7e" stroke="none" stroke-width="1"/>
<line x1="395.85" y1="371.96" x2="395.85" y2="369.92" stroke="#84c25c" stroke-width="1.1"/>
<line x1="393.55" y1="369.92" x2="398.15" y2="369.92" stroke="#84c25c" stroke-width="1.1"/>
<rect x="391.3" y="371.76" width="9.1" height="22.94" fill="#68a33d" stroke="none" stroke-width="1"/>
<text x="380.9" y="316.8" font-size="9" text-anchor="middle" font-weight="normal" fill="#000" stroke="#000" stroke-width="0.1" textLength="26.6" lengthAdjust="spacingAndGlyphs">AMO1</text>
<text x="0" y="0" transform="translate(368,406) rotate(-45)" font-size="8.43" text-anchor="end" font-weight="normal" fill="#000" stroke="#000" stroke-width="0.1" textLength="19.6" lengthAdjust="spacingAndGlyphs">pLKO.1</text>
<text x="0" y="0" transform="translate(382.8,406) rotate(-45)" font-size="8.43" text-anchor="end" font-weight="normal" fill="#000" stroke="#000" stroke-width="0.1" textLength="11.5" lengthAdjust="spacingAndGlyphs">sh#1</text>
<text x="0" y="0" transform="translate(397.6,406) rotate(-45)" font-size="8.43" text-anchor="end" font-weight="normal" fill="#000" stroke="#000" stroke-width="0.1" textLength="11.5" lengthAdjust="spacingAndGlyphs">sh#2</text>
<path d="M365.2,328.6 L365.2,326.9 L395.6,326.9 L395.6,368.7" fill="none" stroke="#000" stroke-width="0.9" stroke-linejoin="round"/>
<path d="M365.2,335.4 L365.2,333.7 L380.8,333.7 L380.8,380.3" fill="none" stroke="#000" stroke-width="0.9" stroke-linejoin="round"/>
<circle cx="376.27" cy="323.50" r="0.95" fill="#111"/>
<circle cx="379.42" cy="323.50" r="0.95" fill="#111"/>
<circle cx="382.57" cy="323.50" r="0.95" fill="#111"/>
<circle cx="385.72" cy="323.50" r="0.95" fill="#111"/>
<circle cx="368.97" cy="330.50" r="0.95" fill="#111"/>
<circle cx="372.12" cy="330.50" r="0.95" fill="#111"/>
<circle cx="375.27" cy="330.50" r="0.95" fill="#111"/>
<circle cx="378.42" cy="330.50" r="0.95" fill="#111"/>
<line x1="464.4" y1="185.6" x2="464.4" y2="251.9" stroke="#000" stroke-width="1.2"/>
<line x1="464.4" y1="251.9" x2="513" y2="251.9" stroke="#000" stroke-width="1.2"/>
<line x1="461.4" y1="251.9" x2="464.4" y2="251.9" stroke="#000" stroke-width="0.8"/>
<text x="458.5" y="254.3" font-size="6.9" text-anchor="end" font-weight="normal" fill="#000" stroke="#000" stroke-width="0.06" textLength="3.65" lengthAdjust="spacingAndGlyphs">0</text>
<line x1="461.4" y1="233.62" x2="464.4" y2="233.62" stroke="#000" stroke-width="0.8"/>
<text x="458.5" y="236.03" font-size="6.9" text-anchor="end" font-weight="normal" fill="#000" stroke="#000" stroke-width="0.06" textLength="7.3" lengthAdjust="spacingAndGlyphs">50</text>
<line x1="461.4" y1="215.35" x2="464.4" y2="215.35" stroke="#000" stroke-width="0.8"/>
<text x="458.5" y="217.75" font-size="6.9" text-anchor="end" font-weight="normal" fill="#000" stroke="#000" stroke-width="0.06" textLength="10.95" lengthAdjust="spacingAndGlyphs">100</text>
<line x1="461.4" y1="197.08" x2="464.4" y2="197.08" stroke="#000" stroke-width="0.8"/>
<text x="458.5" y="199.48" font-size="6.9" text-anchor="end" font-weight="normal" fill="#000" stroke="#000" stroke-width="0.06" textLength="10.95" lengthAdjust="spacingAndGlyphs">150</text>
<line x1="478.1" y1="251.9" x2="478.1" y2="255.1" stroke="#000" stroke-width="0.8"/>
<line x1="497.8" y1="251.9" x2="497.8" y2="255.1" stroke="#000" stroke-width="0.8"/>
<path d="M471.90000000000003,251.9 L471.90000000000003,216.86375 L483.9,216.86375 L483.9,251.9" fill="none" stroke="#b82e52" stroke-width="1.2"/>
<line x1="477.9" y1="216.26" x2="477.9" y2="215.17" stroke="#c02a50" stroke-width="1.1"/>
<line x1="475.4" y1="215.17" x2="480.4" y2="215.17" stroke="#c02a50" stroke-width="1.1"/>
<path d="M492.0,251.9 L492.0,198.0405 L504.0,198.0405 L504.0,251.9" fill="none" stroke="#74b2e8" stroke-width="1.2"/>
<line x1="498" y1="197.44" x2="498" y2="196.53" stroke="#6aaee6" stroke-width="1.1"/>
<line x1="495.5" y1="196.53" x2="500.5" y2="196.53" stroke="#6aaee6" stroke-width="1.1"/>
<path d="M477.7,213.8 L477.7,190.5 L498.4,190.5 L498.4,194.7" fill="none" stroke="#3f5e9c" stroke-width="0.9" stroke-linejoin="round"/>
<circle cx="483.57" cy="187.10" r="0.95" fill="#111"/>
<circle cx="486.72" cy="187.10" r="0.95" fill="#111"/>
<circle cx="489.88" cy="187.10" r="0.95" fill="#111"/>
<circle cx="493.02" cy="187.10" r="0.95" fill="#111"/>
<text x="488.6" y="174.8" font-size="8.8" text-anchor="middle" font-weight="normal" fill="#000" stroke="#000" stroke-width="0.1" textLength="29" lengthAdjust="spacingAndGlyphs" dy="1">KMS20</text>
<text x="0" y="0" transform="translate(480.3,263.2) rotate(-45)" font-size="8.43" text-anchor="end" font-weight="normal" fill="#000" stroke="#000" stroke-width="0.1" textLength="17.5" lengthAdjust="spacingAndGlyphs">empty</text>
<text x="0" y="0" transform="translate(500,263.2) rotate(-45)" font-size="8.43" text-anchor="end" font-weight="normal" fill="#000" stroke="#000" stroke-width="0.1" textLength="19.5" lengthAdjust="spacingAndGlyphs">14-3-3ζ</text>
<text x="0" y="0" transform="translate(432.62,219.2) rotate(-90)" font-size="8.64" text-anchor="middle" font-weight="normal" fill="#000" stroke="#000" stroke-width="0.06" textLength="40" lengthAdjust="spacingAndGlyphs">MFI of kappa</text>
<text x="0" y="0" transform="translate(442.02,218.6) rotate(-90)" font-size="8.64" text-anchor="middle" font-weight="normal" fill="#000" stroke="#000" stroke-width="0.06" textLength="68.2" lengthAdjust="spacingAndGlyphs">(% compare to control)</text>
<line x1="464.4" y1="319.9" x2="464.4" y2="394.5" stroke="#000" stroke-width="1.2"/>
<line x1="464.4" y1="394.5" x2="513" y2="394.5" stroke="#000" stroke-width="1.2"/>
<line x1="461.4" y1="394.5" x2="464.4" y2="394.5" stroke="#000" stroke-width="0.8"/>
<text x="458.5" y="396.9" font-size="6.9" text-anchor="end" font-weight="normal" fill="#000" stroke="#000" stroke-width="0.06" textLength="3.65" lengthAdjust="spacingAndGlyphs">0</text>
<line x1="461.4" y1="373.32" x2="464.4" y2="373.32" stroke="#000" stroke-width="0.8"/>
<text x="458.5" y="375.72" font-size="6.9" text-anchor="end" font-weight="normal" fill="#000" stroke="#000" stroke-width="0.06" textLength="10.95" lengthAdjust="spacingAndGlyphs">200</text>
<line x1="461.4" y1="352.14" x2="464.4" y2="352.14" stroke="#000" stroke-width="0.8"/>
<text x="458.5" y="354.54" font-size="6.9" text-anchor="end" font-weight="normal" fill="#000" stroke="#000" stroke-width="0.06" textLength="10.95" lengthAdjust="spacingAndGlyphs">400</text>
<line x1="461.4" y1="330.96" x2="464.4" y2="330.96" stroke="#000" stroke-width="0.8"/>
<text x="458.5" y="333.36" font-size="6.9" text-anchor="end" font-weight="normal" fill="#000" stroke="#000" stroke-width="0.06" textLength="10.95" lengthAdjust="spacingAndGlyphs">600</text>
<line x1="478.1" y1="394.5" x2="478.1" y2="397.7" stroke="#000" stroke-width="0.8"/>
<line x1="497.8" y1="394.5" x2="497.8" y2="397.7" stroke="#000" stroke-width="0.8"/>
<path d="M471.90000000000003,394.5 L471.90000000000003,384.9336 L483.9,384.9336 L483.9,394.5" fill="none" stroke="#b82e52" stroke-width="1.2"/>
<line x1="477.7" y1="384.33" x2="477.7" y2="382.22" stroke="#c02a50" stroke-width="1.1"/>
<line x1="474.6" y1="382.22" x2="480.8" y2="382.22" stroke="#c02a50" stroke-width="1.1"/>
<path d="M492.0,394.5 L492.0,342.46770000000004 L504.0,342.46770000000004 L504.0,394.5" fill="none" stroke="#74b2e8" stroke-width="1.2"/>
<line x1="498" y1="341.87" x2="498" y2="329.9" stroke="#6aaee6" stroke-width="1.1"/>
<line x1="495.3" y1="329.9" x2="500.7" y2="329.9" stroke="#6aaee6" stroke-width="1.1"/>
<path d="M477.7,377.1 L477.7,327.3 L498.4,327.3 L498.4,328.6" fill="none" stroke="#3f5e9c" stroke-width="0.9" stroke-linejoin="round"/>
<circle cx="487.05" cy="324.20" r="0.7" fill="#111"/>
<circle cx="489.55" cy="324.20" r="0.7" fill="#111"/>
<text x="488.6" y="316.4" font-size="8.8" text-anchor="middle" font-weight="normal" fill="#000" stroke="#000" stroke-width="0.1" textLength="29" lengthAdjust="spacingAndGlyphs" dy="1">KMS20</text>
<text x="0" y="0" transform="translate(480.3,405.8) rotate(-45)" font-size="8.43" text-anchor="end" font-weight="normal" fill="#000" stroke="#000" stroke-width="0.1" textLength="17.5" lengthAdjust="spacingAndGlyphs">empty</text>
<text x="0" y="0" transform="translate(500,405.8) rotate(-45)" font-size="8.43" text-anchor="end" font-weight="normal" fill="#000" stroke="#000" stroke-width="0.1" textLength="19.5" lengthAdjust="spacingAndGlyphs">14-3-3ζ</text>
<text x="0" y="0" transform="translate(432.62,357.6) rotate(-90)" font-size="8.64" text-anchor="middle" font-weight="normal" fill="#000" stroke="#000" stroke-width="0.06" textLength="57.7" lengthAdjust="spacingAndGlyphs">Secreted M-protein</text>
<text x="0" y="0" transform="translate(442.02,358.6) rotate(-90)" font-size="8.64" text-anchor="middle" font-weight="normal" fill="#000" stroke="#000" stroke-width="0.06" textLength="70.4" lengthAdjust="spacingAndGlyphs">(% compare to control)</text>
</svg></body></html>
